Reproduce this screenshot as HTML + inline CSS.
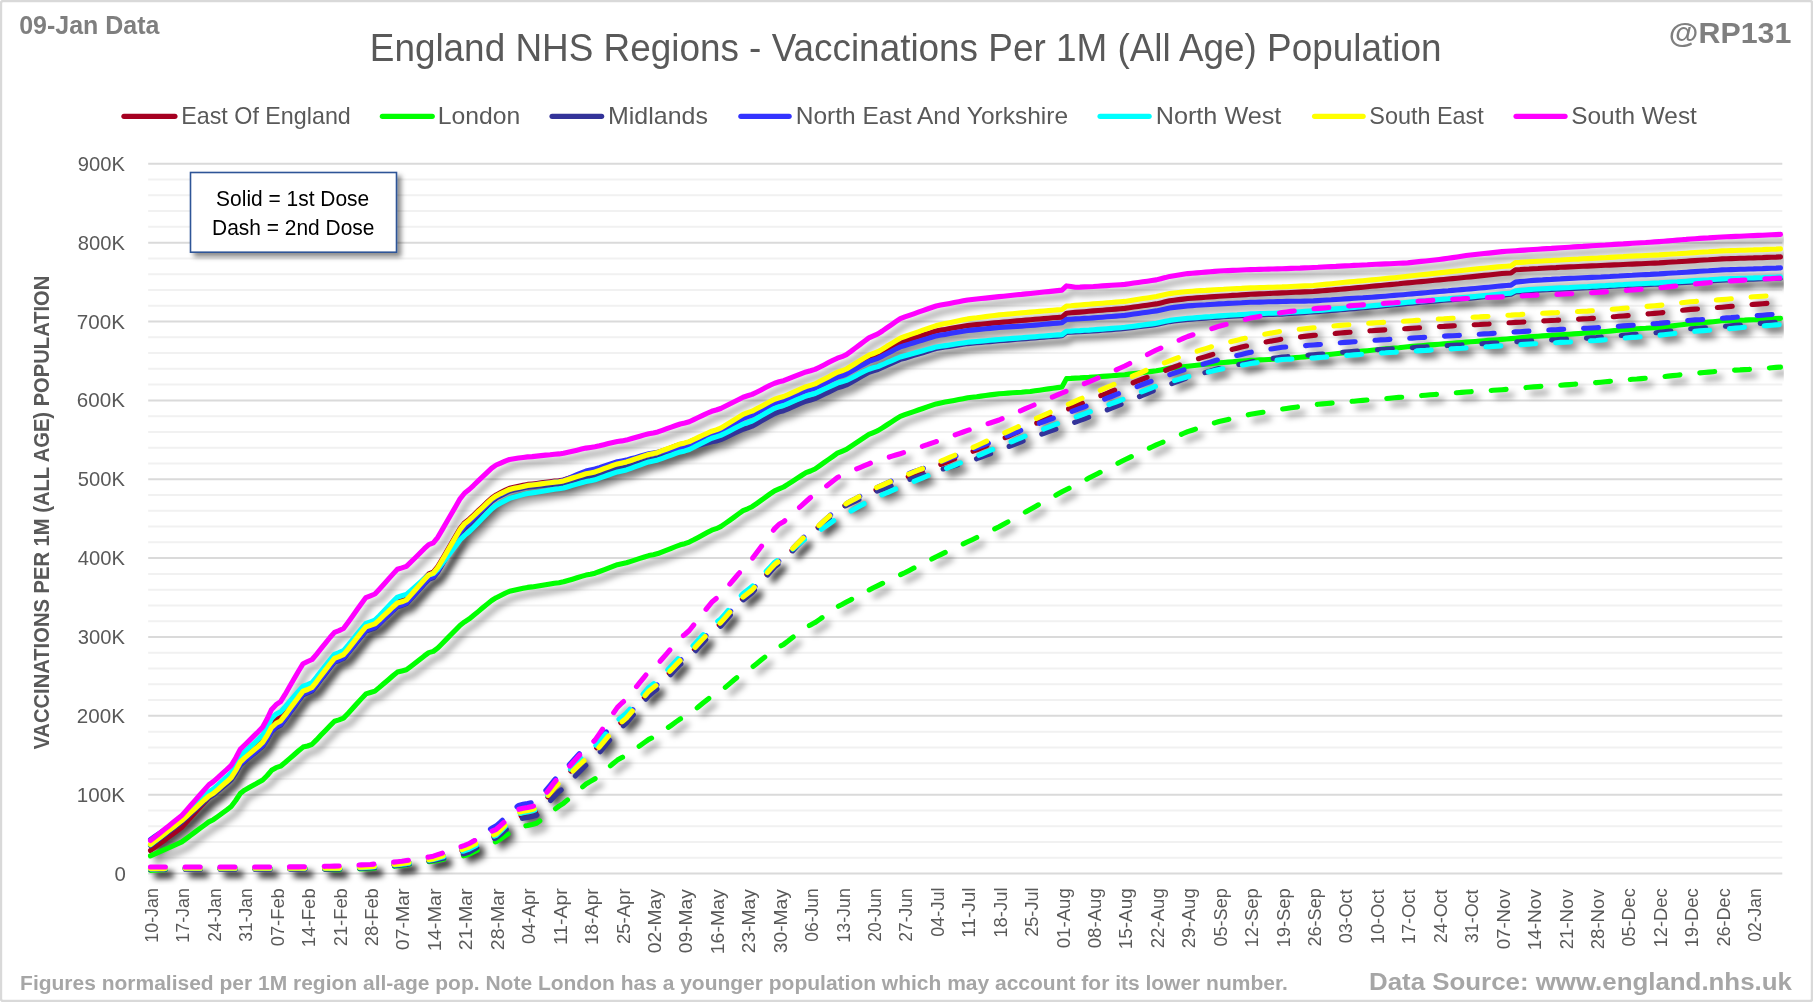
<!DOCTYPE html><html><head><meta charset="utf-8"><title>England NHS Regions - Vaccinations</title>
<style>html,body{margin:0;padding:0;background:#fff;}svg{display:block;font-family:'Liberation Sans', sans-serif;}</style></head><body>
<svg width="1813" height="1002" viewBox="0 0 1813 1002">
<defs>
<filter id="sh" x="0" y="0" width="1813" height="1002" filterUnits="userSpaceOnUse"><feGaussianBlur stdDeviation="3"/><feOffset dx="5.8" dy="5.8"/></filter>
<filter id="bsh" x="-10%" y="-10%" width="130%" height="140%"><feDropShadow dx="4" dy="4" stdDeviation="2.5" flood-color="#000" flood-opacity="0.45"/></filter>
<clipPath id="cp"><rect x="147.7" y="140" width="1636.1" height="745"/></clipPath>
</defs>
<rect x="0" y="0" width="1813" height="1002" fill="#fff"/>
<rect x="1" y="1" width="1811" height="1000" fill="none" stroke="#d9d9d9" stroke-width="2.4" rx="2"/>
<path d="M148.2 857.83H1782.3M148.2 842.05H1782.3M148.2 826.28H1782.3M148.2 810.50H1782.3M148.2 778.96H1782.3M148.2 763.18H1782.3M148.2 747.41H1782.3M148.2 731.63H1782.3M148.2 700.09H1782.3M148.2 684.31H1782.3M148.2 668.54H1782.3M148.2 652.76H1782.3M148.2 621.22H1782.3M148.2 605.44H1782.3M148.2 589.67H1782.3M148.2 573.89H1782.3M148.2 542.35H1782.3M148.2 526.57H1782.3M148.2 510.80H1782.3M148.2 495.02H1782.3M148.2 463.48H1782.3M148.2 447.70H1782.3M148.2 431.93H1782.3M148.2 416.15H1782.3M148.2 384.61H1782.3M148.2 368.83H1782.3M148.2 353.06H1782.3M148.2 337.28H1782.3M148.2 305.74H1782.3M148.2 289.96H1782.3M148.2 274.19H1782.3M148.2 258.41H1782.3M148.2 226.87H1782.3M148.2 211.09H1782.3M148.2 195.32H1782.3M148.2 179.54H1782.3" stroke="#f1f1f1" stroke-width="2" fill="none"/>
<path d="M148.2 873.60H1782.3M148.2 794.73H1782.3M148.2 715.86H1782.3M148.2 636.99H1782.3M148.2 558.12H1782.3M148.2 479.25H1782.3M148.2 400.38H1782.3M148.2 321.51H1782.3M148.2 242.64H1782.3M148.2 163.77H1782.3" stroke="#dadada" stroke-width="2" fill="none"/>
<g clip-path="url(#cp)" fill="none" stroke-linecap="round" stroke-linejoin="round" stroke-width="5.1">
<g filter="url(#sh)" stroke="#000" stroke-opacity="0.37">
<path id="s_red" d="M150.4,850.5 L154.9,847.2 L159.4,843.9 L163.9,840.6 L168.4,837.3 L172.9,834.0 L177.3,830.7 L181.8,827.3 L186.3,822.4 L190.8,817.4 L195.3,812.4 L199.8,807.4 L204.3,802.5 L208.8,797.6 L213.3,794.4 L217.8,790.2 L222.2,785.9 L226.7,781.6 L231.2,777.0 L235.7,769.1 L240.2,760.0 L244.7,755.3 L249.2,751.4 L253.7,747.5 L258.2,743.6 L262.7,739.4 L267.2,732.3 L271.6,724.0 L276.1,719.9 L280.6,717.6 L285.1,712.0 L289.6,706.1 L294.1,700.2 L298.6,694.2 L303.1,688.7 L307.6,687.0 L312.1,684.9 L316.5,679.5 L321.0,673.7 L325.5,667.9 L330.0,662.1 L334.5,656.6 L339.0,655.0 L343.5,653.0 L348.0,647.7 L352.5,642.1 L357.0,636.5 L361.5,630.9 L365.9,625.6 L370.4,624.0 L374.9,622.5 L379.4,618.5 L383.9,614.2 L388.4,610.0 L392.9,605.7 L397.4,601.7 L401.9,600.5 L406.4,598.7 L410.8,593.9 L415.3,588.8 L419.8,583.8 L424.3,578.7 L428.8,573.9 L433.3,572.1 L437.8,566.5 L442.3,559.0 L446.8,551.3 L451.3,543.5 L455.8,535.8 L460.2,528.3 L464.7,522.7 L469.2,519.2 L473.7,515.0 L478.2,510.7 L482.7,506.5 L487.2,502.2 L491.7,498.0 L496.2,494.9 L500.7,492.6 L505.1,490.4 L509.6,488.2 L514.1,487.2 L518.6,486.3 L523.1,485.3 L527.6,484.4 L532.1,484.0 L536.6,483.5 L541.1,482.9 L545.6,482.3 L550.1,481.7 L554.5,481.1 L559.0,480.8 L563.5,479.9 L568.0,478.5 L572.5,477.1 L577.0,475.7 L581.5,474.2 L586.0,472.9 L590.5,472.0 L595.0,471.0 L599.5,469.5 L603.9,468.0 L608.4,466.4 L612.9,464.9 L617.4,463.4 L621.9,462.5 L626.4,461.6 L630.9,460.2 L635.4,458.7 L639.9,457.2 L644.4,455.8 L648.8,454.4 L653.3,453.5 L657.8,452.5 L662.3,450.9 L666.8,449.3 L671.3,447.7 L675.8,446.0 L680.3,444.5 L684.8,443.5 L689.3,442.2 L693.8,440.2 L698.2,438.2 L702.7,436.2 L707.2,434.2 L711.7,432.2 L716.2,431.0 L720.7,429.3 L725.2,426.7 L729.7,424.0 L734.2,421.4 L738.7,418.7 L743.1,416.1 L747.6,414.5 L752.1,412.9 L756.6,410.6 L761.1,408.2 L765.6,405.7 L770.1,403.3 L774.6,401.0 L779.1,399.5 L783.6,398.2 L788.1,396.3 L792.5,394.3 L797.0,392.3 L801.5,390.3 L806.0,388.4 L810.5,387.2 L815.0,385.7 L819.5,383.5 L824.0,381.2 L828.5,378.9 L833.0,376.6 L837.4,374.4 L841.9,373.0 L846.4,371.3 L850.9,368.8 L855.4,366.2 L859.9,363.5 L864.4,360.9 L868.9,358.4 L873.4,356.8 L877.9,355.2 L882.4,352.7 L886.8,350.1 L891.3,347.5 L895.8,344.9 L900.3,342.4 L904.8,340.9 L909.3,339.5 L913.8,338.0 L918.3,336.6 L922.8,335.2 L927.3,333.8 L931.7,332.3 L936.2,331.0 L940.7,330.1 L945.2,329.4 L949.7,328.6 L954.2,327.8 L958.7,327.0 L963.2,326.3 L967.7,325.5 L972.2,325.1 L976.7,324.6 L981.1,324.2 L985.6,323.8 L990.1,323.4 L994.6,322.9 L999.1,322.5 L1003.6,322.1 L1008.1,321.7 L1012.6,321.3 L1017.1,320.9 L1021.6,320.5 L1026.0,320.1 L1030.5,319.7 L1035.0,319.3 L1039.5,319.0 L1044.0,318.6 L1048.5,318.2 L1053.0,317.8 L1057.5,317.5 L1062.0,317.1 L1066.5,313.2 L1071.0,312.8 L1075.4,312.4 L1079.9,312.1 L1084.4,311.7 L1088.9,311.3 L1093.4,310.9 L1097.9,310.5 L1102.4,310.2 L1106.9,309.8 L1111.4,309.5 L1115.9,309.1 L1120.3,308.8 L1124.8,308.4 L1129.3,307.8 L1133.8,307.1 L1138.3,306.5 L1142.8,305.8 L1147.3,305.2 L1151.8,304.5 L1156.3,303.9 L1160.8,302.9 L1165.3,301.8 L1169.7,300.8 L1174.2,300.2 L1178.7,299.6 L1183.2,299.1 L1187.7,298.5 L1192.2,298.2 L1196.7,297.9 L1201.2,297.6 L1205.7,297.2 L1210.2,296.9 L1214.6,296.6 L1219.1,296.3 L1223.6,296.0 L1228.1,295.7 L1232.6,295.4 L1237.1,295.2 L1241.6,294.9 L1246.1,294.6 L1250.6,294.3 L1255.1,294.1 L1259.6,293.9 L1264.0,293.7 L1268.5,293.5 L1273.0,293.3 L1277.5,293.1 L1282.0,292.9 L1286.5,292.7 L1291.0,292.5 L1295.5,292.3 L1300.0,292.1 L1304.5,291.9 L1308.9,291.7 L1313.4,291.5 L1317.9,291.1 L1322.4,290.8 L1326.9,290.4 L1331.4,290.0 L1335.9,289.6 L1340.4,289.3 L1344.9,288.9 L1349.4,288.5 L1353.9,288.0 L1358.3,287.6 L1362.8,287.2 L1367.3,286.8 L1371.8,286.3 L1376.3,285.9 L1380.8,285.5 L1385.3,285.0 L1389.8,284.6 L1394.3,284.2 L1398.8,283.8 L1403.2,283.3 L1407.7,282.9 L1412.2,282.5 L1416.7,282.0 L1421.2,281.6 L1425.7,281.2 L1430.2,280.8 L1434.7,280.3 L1439.2,279.9 L1443.7,279.5 L1448.2,279.0 L1452.6,278.6 L1457.1,278.2 L1461.6,277.8 L1466.1,277.3 L1470.6,276.9 L1475.1,276.4 L1479.6,275.9 L1484.1,275.4 L1488.6,275.0 L1493.1,274.5 L1497.6,274.0 L1502.0,273.5 L1506.5,273.2 L1511.0,273.0 L1515.5,269.7 L1520.0,269.5 L1524.5,269.2 L1529.0,269.0 L1533.5,268.7 L1538.0,268.5 L1542.5,268.2 L1546.9,268.0 L1551.4,267.8 L1555.9,267.6 L1560.4,267.3 L1564.9,267.1 L1569.4,266.9 L1573.9,266.7 L1578.4,266.5 L1582.9,266.3 L1587.4,266.1 L1591.9,265.9 L1596.3,265.7 L1600.8,265.5 L1605.3,265.3 L1609.8,265.1 L1614.3,264.9 L1618.8,264.7 L1623.3,264.5 L1627.8,264.3 L1632.3,264.1 L1636.8,263.9 L1641.2,263.7 L1645.7,263.5 L1650.2,263.3 L1654.7,263.1 L1659.2,262.9 L1663.7,262.6 L1668.2,262.3 L1672.7,262.0 L1677.2,261.8 L1681.7,261.5 L1686.2,261.2 L1690.6,260.9 L1695.1,260.6 L1699.6,260.3 L1704.1,260.0 L1708.6,259.8 L1713.1,259.5 L1717.6,259.2 L1722.1,258.9 L1726.6,258.8 L1731.1,258.6 L1735.5,258.5 L1740.0,258.3 L1744.5,258.2 L1749.0,258.0 L1753.5,257.9 L1758.0,257.7 L1762.5,257.6 L1767.0,257.4 L1771.5,257.2 L1776.0,257.1 L1780.5,256.9"/>
<path id="s_green" d="M150.4,855.9 L154.9,853.9 L159.4,851.9 L163.9,849.9 L168.4,848.0 L172.9,846.0 L177.3,844.0 L181.8,841.9 L186.3,838.6 L190.8,835.3 L195.3,831.9 L199.8,828.5 L204.3,825.2 L208.8,821.9 L213.3,819.7 L217.8,816.5 L222.2,813.3 L226.7,810.0 L231.2,806.5 L235.7,800.5 L240.2,793.6 L244.7,790.1 L249.2,787.5 L253.7,785.1 L258.2,782.6 L262.7,780.0 L267.2,775.5 L271.6,770.3 L276.1,767.7 L280.6,766.2 L285.1,762.5 L289.6,758.6 L294.1,754.7 L298.6,750.8 L303.1,747.1 L307.6,746.0 L312.1,744.3 L316.5,739.9 L321.0,735.1 L325.5,730.4 L330.0,725.7 L334.5,721.2 L339.0,719.9 L343.5,718.1 L348.0,713.5 L352.5,708.5 L357.0,703.5 L361.5,698.6 L365.9,693.9 L370.4,692.5 L374.9,691.1 L379.4,687.4 L383.9,683.5 L388.4,679.7 L392.9,675.8 L397.4,672.1 L401.9,671.0 L406.4,669.8 L410.8,666.4 L415.3,662.9 L419.8,659.4 L424.3,655.9 L428.8,652.6 L433.3,651.4 L437.8,648.0 L442.3,643.5 L446.8,638.9 L451.3,634.3 L455.8,629.7 L460.2,625.2 L464.7,621.8 L469.2,618.9 L473.7,615.3 L478.2,611.6 L482.7,607.8 L487.2,604.1 L491.7,600.5 L496.2,597.7 L500.7,595.5 L505.1,593.3 L509.6,591.2 L514.1,590.2 L518.6,589.2 L523.1,588.3 L527.6,587.4 L532.1,586.9 L536.6,586.2 L541.1,585.4 L545.6,584.7 L550.1,583.9 L554.5,583.2 L559.0,582.7 L563.5,581.8 L568.0,580.5 L572.5,579.2 L577.0,577.8 L581.5,576.4 L586.0,575.1 L590.5,574.3 L595.0,573.2 L599.5,571.5 L603.9,569.8 L608.4,568.1 L612.9,566.4 L617.4,564.7 L621.9,563.7 L626.4,562.8 L630.9,561.4 L635.4,559.9 L639.9,558.4 L644.4,557.0 L648.8,555.6 L653.3,554.7 L657.8,553.6 L662.3,551.8 L666.8,550.1 L671.3,548.3 L675.8,546.5 L680.3,544.8 L684.8,543.7 L689.3,542.1 L693.8,539.8 L698.2,537.4 L702.7,534.9 L707.2,532.5 L711.7,530.2 L716.2,528.7 L720.7,526.6 L725.2,523.5 L729.7,520.3 L734.2,517.1 L738.7,513.8 L743.1,510.7 L747.6,508.8 L752.1,506.7 L756.6,503.6 L761.1,500.4 L765.6,497.2 L770.1,493.9 L774.6,490.8 L779.1,488.9 L783.6,487.0 L788.1,484.2 L792.5,481.3 L797.0,478.4 L801.5,475.5 L806.0,472.7 L810.5,471.0 L815.0,469.0 L819.5,465.9 L824.0,462.7 L828.5,459.5 L833.0,456.3 L837.4,453.2 L841.9,451.3 L846.4,449.4 L850.9,446.4 L855.4,443.4 L859.9,440.4 L864.4,437.3 L868.9,434.4 L873.4,432.6 L877.9,430.7 L882.4,427.9 L886.8,425.0 L891.3,422.1 L895.8,419.2 L900.3,416.4 L904.8,414.7 L909.3,413.1 L913.8,411.6 L918.3,410.0 L922.8,408.5 L927.3,406.9 L931.7,405.4 L936.2,403.9 L940.7,402.9 L945.2,402.1 L949.7,401.2 L954.2,400.4 L958.7,399.5 L963.2,398.7 L967.7,397.8 L972.2,397.2 L976.7,396.7 L981.1,396.1 L985.6,395.5 L990.1,394.9 L994.6,394.4 L999.1,393.8 L1003.6,393.5 L1008.1,393.1 L1012.6,392.8 L1017.1,392.5 L1021.6,392.2 L1026.0,391.8 L1030.5,391.5 L1035.0,390.8 L1039.5,390.2 L1044.0,389.5 L1048.5,388.9 L1053.0,388.2 L1057.5,387.6 L1062.0,386.9 L1066.5,378.6 L1071.0,378.4 L1075.4,378.1 L1079.9,377.9 L1084.4,377.6 L1088.9,377.4 L1093.4,377.1 L1097.9,376.8 L1102.4,376.4 L1106.9,376.1 L1111.4,375.7 L1115.9,375.4 L1120.3,375.0 L1124.8,374.7 L1129.3,374.1 L1133.8,373.6 L1138.3,373.0 L1142.8,372.5 L1147.3,371.9 L1151.8,371.4 L1156.3,370.8 L1160.8,369.9 L1165.3,369.0 L1169.7,368.1 L1174.2,367.6 L1178.7,367.1 L1183.2,366.7 L1187.7,366.2 L1192.2,365.7 L1196.7,365.2 L1201.2,364.7 L1205.7,364.3 L1210.2,363.8 L1214.6,363.3 L1219.1,362.8 L1223.6,362.5 L1228.1,362.1 L1232.6,361.8 L1237.1,361.4 L1241.6,361.1 L1246.1,360.7 L1250.6,360.4 L1255.1,360.2 L1259.6,359.9 L1264.0,359.7 L1268.5,359.5 L1273.0,359.3 L1277.5,359.0 L1282.0,358.8 L1286.5,358.4 L1291.0,358.0 L1295.5,357.6 L1300.0,357.3 L1304.5,356.9 L1308.9,356.5 L1313.4,356.1 L1317.9,355.6 L1322.4,355.2 L1326.9,354.7 L1331.4,354.2 L1335.9,353.7 L1340.4,353.3 L1344.9,352.8 L1349.4,352.4 L1353.9,351.9 L1358.3,351.5 L1362.8,351.1 L1367.3,350.7 L1371.8,350.2 L1376.3,349.8 L1380.8,349.4 L1385.3,348.9 L1389.8,348.5 L1394.3,348.1 L1398.8,347.7 L1403.2,347.2 L1407.7,346.8 L1412.2,346.4 L1416.7,346.1 L1421.2,345.7 L1425.7,345.3 L1430.2,344.9 L1434.7,344.6 L1439.2,344.2 L1443.7,343.9 L1448.2,343.5 L1452.6,343.2 L1457.1,342.8 L1461.6,342.5 L1466.1,342.1 L1470.6,341.8 L1475.1,341.5 L1479.6,341.1 L1484.1,340.8 L1488.6,340.4 L1493.1,340.1 L1497.6,339.7 L1502.0,339.4 L1506.5,339.0 L1511.0,338.6 L1515.5,338.2 L1520.0,337.7 L1524.5,337.3 L1529.0,336.9 L1533.5,336.5 L1538.0,336.2 L1542.5,335.9 L1546.9,335.6 L1551.4,335.4 L1555.9,335.1 L1560.4,334.8 L1564.9,334.5 L1569.4,334.2 L1573.9,333.9 L1578.4,333.6 L1582.9,333.2 L1587.4,332.9 L1591.9,332.6 L1596.3,332.3 L1600.8,331.9 L1605.3,331.5 L1609.8,331.1 L1614.3,330.6 L1618.8,330.2 L1623.3,329.8 L1627.8,329.4 L1632.3,329.1 L1636.8,328.8 L1641.2,328.5 L1645.7,328.3 L1650.2,328.0 L1654.7,327.7 L1659.2,327.4 L1663.7,326.9 L1668.2,326.4 L1672.7,325.9 L1677.2,325.3 L1681.7,324.8 L1686.2,324.3 L1690.6,323.8 L1695.1,323.4 L1699.6,322.9 L1704.1,322.5 L1708.6,322.1 L1713.1,321.7 L1717.6,321.2 L1722.1,320.8 L1726.6,320.7 L1731.1,320.5 L1735.5,320.4 L1740.0,320.2 L1744.5,320.1 L1749.0,319.9 L1753.5,319.8 L1758.0,319.6 L1762.5,319.3 L1767.0,319.1 L1771.5,318.9 L1776.0,318.6 L1780.5,318.4"/>
<path id="s_navy" d="M150.4,845.5 L154.9,842.1 L159.4,838.8 L163.9,835.4 L168.4,832.1 L172.9,828.7 L177.3,825.4 L181.8,821.9 L186.3,817.9 L190.8,813.8 L195.3,809.7 L199.8,805.6 L204.3,801.5 L208.8,797.6 L213.3,794.9 L217.8,791.3 L222.2,787.6 L226.7,783.8 L231.2,779.9 L235.7,773.0 L240.2,765.1 L244.7,761.0 L249.2,757.3 L253.7,753.7 L258.2,750.0 L262.7,746.1 L267.2,739.3 L271.6,731.5 L276.1,727.6 L280.6,725.3 L285.1,719.4 L289.6,713.1 L294.1,706.9 L298.6,700.6 L303.1,694.8 L307.6,693.0 L312.1,690.9 L316.5,685.4 L321.0,679.5 L325.5,673.6 L330.0,667.7 L334.5,662.2 L339.0,660.5 L343.5,658.5 L348.0,653.2 L352.5,647.6 L357.0,642.0 L361.5,636.4 L365.9,631.1 L370.4,629.5 L374.9,628.0 L379.4,623.9 L383.9,619.5 L388.4,615.2 L392.9,610.8 L397.4,606.7 L401.9,605.5 L406.4,603.7 L410.8,599.0 L415.3,594.0 L419.8,589.1 L424.3,584.1 L428.8,579.4 L433.3,577.6 L437.8,572.0 L442.3,564.5 L446.8,556.8 L451.3,549.0 L455.8,541.3 L460.2,533.8 L464.7,528.2 L469.2,524.4 L473.7,519.9 L478.2,515.3 L482.7,510.6 L487.2,506.0 L491.7,501.5 L496.2,498.1 L500.7,495.7 L505.1,493.4 L509.6,491.2 L514.1,490.1 L518.6,489.0 L523.1,488.0 L527.6,487.1 L532.1,486.7 L536.6,486.2 L541.1,485.7 L545.6,485.2 L550.1,484.8 L554.5,484.3 L559.0,484.0 L563.5,483.2 L568.0,481.9 L572.5,480.6 L577.0,479.3 L581.5,478.0 L586.0,476.8 L590.5,476.0 L595.0,475.2 L599.5,473.9 L603.9,472.6 L608.4,471.3 L612.9,470.0 L617.4,468.7 L621.9,467.9 L626.4,467.0 L630.9,465.6 L635.4,464.1 L639.9,462.7 L644.4,461.3 L648.8,459.9 L653.3,459.0 L657.8,458.0 L662.3,456.4 L666.8,454.8 L671.3,453.2 L675.8,451.5 L680.3,450.0 L684.8,449.0 L689.3,448.2 L693.8,446.9 L698.2,445.6 L702.7,444.3 L707.2,443.0 L711.7,441.8 L716.2,441.0 L720.7,439.6 L725.2,437.6 L729.7,435.5 L734.2,433.3 L738.7,431.2 L743.1,429.2 L747.6,427.9 L752.1,426.2 L756.6,423.7 L761.1,421.1 L765.6,418.5 L770.1,416.0 L774.6,413.5 L779.1,411.9 L783.6,410.7 L788.1,408.8 L792.5,406.9 L797.0,404.9 L801.5,403.0 L806.0,401.2 L810.5,400.0 L815.0,398.6 L819.5,396.5 L824.0,394.3 L828.5,392.1 L833.0,389.9 L837.4,387.8 L841.9,386.5 L846.4,384.9 L850.9,382.4 L855.4,379.9 L859.9,377.3 L864.4,374.8 L868.9,372.3 L873.4,370.8 L877.9,369.5 L882.4,367.5 L886.8,365.5 L891.3,363.4 L895.8,361.4 L900.3,359.4 L904.8,358.2 L909.3,356.8 L913.8,355.4 L918.3,354.0 L922.8,352.7 L927.3,351.3 L931.7,349.9 L936.2,348.6 L940.7,347.8 L945.2,347.1 L949.7,346.4 L954.2,345.7 L958.7,345.0 L963.2,344.3 L967.7,343.6 L972.2,343.2 L976.7,342.8 L981.1,342.4 L985.6,342.0 L990.1,341.6 L994.6,341.2 L999.1,340.8 L1003.6,340.4 L1008.1,340.1 L1012.6,339.7 L1017.1,339.3 L1021.6,338.9 L1026.0,338.6 L1030.5,338.2 L1035.0,337.9 L1039.5,337.5 L1044.0,337.2 L1048.5,336.8 L1053.0,336.5 L1057.5,336.1 L1062.0,335.8 L1066.5,332.5 L1071.0,332.3 L1075.4,332.0 L1079.9,331.8 L1084.4,331.5 L1088.9,331.3 L1093.4,331.0 L1097.9,330.6 L1102.4,330.3 L1106.9,329.9 L1111.4,329.6 L1115.9,329.2 L1120.3,328.9 L1124.8,328.5 L1129.3,327.9 L1133.8,327.4 L1138.3,326.8 L1142.8,326.2 L1147.3,325.6 L1151.8,325.1 L1156.3,324.5 L1160.8,323.5 L1165.3,322.5 L1169.7,321.6 L1174.2,321.0 L1178.7,320.5 L1183.2,320.0 L1187.7,319.5 L1192.2,319.2 L1196.7,318.8 L1201.2,318.5 L1205.7,318.1 L1210.2,317.8 L1214.6,317.4 L1219.1,317.1 L1223.6,316.8 L1228.1,316.5 L1232.6,316.2 L1237.1,316.0 L1241.6,315.7 L1246.1,315.4 L1250.6,315.1 L1255.1,315.0 L1259.6,314.8 L1264.0,314.7 L1268.5,314.5 L1273.0,314.4 L1277.5,314.2 L1282.0,314.1 L1286.5,313.8 L1291.0,313.5 L1295.5,313.2 L1300.0,312.9 L1304.5,312.6 L1308.9,312.3 L1313.4,312.0 L1317.9,311.6 L1322.4,311.3 L1326.9,310.9 L1331.4,310.5 L1335.9,310.1 L1340.4,309.8 L1344.9,309.4 L1349.4,309.0 L1353.9,308.6 L1358.3,308.2 L1362.8,307.8 L1367.3,307.4 L1371.8,307.0 L1376.3,306.6 L1380.8,306.2 L1385.3,305.7 L1389.8,305.3 L1394.3,304.8 L1398.8,304.4 L1403.2,303.9 L1407.7,303.5 L1412.2,303.1 L1416.7,302.7 L1421.2,302.3 L1425.7,301.9 L1430.2,301.5 L1434.7,301.1 L1439.2,300.7 L1443.7,300.3 L1448.2,300.0 L1452.6,299.6 L1457.1,299.2 L1461.6,298.8 L1466.1,298.5 L1470.6,298.1 L1475.1,297.7 L1479.6,297.2 L1484.1,296.8 L1488.6,296.4 L1493.1,296.0 L1497.6,295.5 L1502.0,295.1 L1506.5,294.7 L1511.0,294.3 L1515.5,291.9 L1520.0,291.6 L1524.5,291.2 L1529.0,290.8 L1533.5,290.4 L1538.0,290.2 L1542.5,290.0 L1546.9,289.8 L1551.4,289.5 L1555.9,289.3 L1560.4,289.1 L1564.9,288.9 L1569.4,288.7 L1573.9,288.4 L1578.4,288.2 L1582.9,288.0 L1587.4,287.8 L1591.9,287.5 L1596.3,287.3 L1600.8,287.0 L1605.3,286.8 L1609.8,286.5 L1614.3,286.3 L1618.8,286.0 L1623.3,285.8 L1627.8,285.5 L1632.3,285.3 L1636.8,285.1 L1641.2,284.9 L1645.7,284.7 L1650.2,284.5 L1654.7,284.3 L1659.2,284.1 L1663.7,283.8 L1668.2,283.5 L1672.7,283.2 L1677.2,283.0 L1681.7,282.7 L1686.2,282.4 L1690.6,282.1 L1695.1,281.8 L1699.6,281.5 L1704.1,281.2 L1708.6,281.0 L1713.1,280.7 L1717.6,280.4 L1722.1,280.1 L1726.6,280.0 L1731.1,279.8 L1735.5,279.7 L1740.0,279.5 L1744.5,279.4 L1749.0,279.2 L1753.5,279.1 L1758.0,278.9 L1762.5,278.8 L1767.0,278.6 L1771.5,278.4 L1776.0,278.3 L1780.5,278.1"/>
<path id="s_blue" d="M150.4,839.5 L154.9,836.4 L159.4,833.4 L163.9,830.3 L168.4,827.2 L172.9,824.1 L177.3,821.1 L181.8,817.9 L186.3,814.0 L190.8,810.0 L195.3,805.9 L199.8,801.9 L204.3,797.9 L208.8,794.0 L213.3,791.4 L217.8,788.1 L222.2,784.7 L226.7,781.3 L231.2,777.6 L235.7,771.4 L240.2,764.1 L244.7,760.4 L249.2,756.7 L253.7,753.0 L258.2,749.3 L262.7,745.3 L267.2,738.5 L271.6,730.6 L276.1,726.6 L280.6,724.3 L285.1,718.4 L289.6,712.1 L294.1,705.9 L298.6,699.6 L303.1,693.8 L307.6,692.0 L312.1,689.9 L316.5,684.4 L321.0,678.5 L325.5,672.7 L330.0,666.8 L334.5,661.4 L339.0,659.7 L343.5,657.7 L348.0,652.4 L352.5,646.8 L357.0,641.2 L361.5,635.6 L365.9,630.3 L370.4,628.7 L374.9,627.2 L379.4,623.1 L383.9,618.7 L388.4,614.4 L392.9,610.1 L397.4,606.0 L401.9,604.8 L406.4,603.0 L410.8,598.3 L415.3,593.2 L419.8,588.2 L424.3,583.1 L428.8,578.4 L433.3,576.6 L437.8,570.9 L442.3,563.2 L446.8,555.3 L451.3,547.5 L455.8,539.6 L460.2,531.9 L464.7,526.2 L469.2,522.5 L473.7,518.0 L478.2,513.5 L482.7,508.9 L487.2,504.4 L491.7,499.9 L496.2,496.6 L500.7,494.2 L505.1,491.9 L509.6,489.6 L514.1,488.5 L518.6,487.5 L523.1,486.4 L527.6,485.5 L532.1,485.0 L536.6,484.4 L541.1,483.8 L545.6,483.1 L550.1,482.5 L554.5,481.9 L559.0,481.4 L563.5,480.3 L568.0,478.5 L572.5,476.6 L577.0,474.7 L581.5,472.8 L586.0,471.0 L590.5,469.9 L595.0,469.0 L599.5,467.6 L603.9,466.1 L608.4,464.6 L612.9,463.2 L617.4,461.8 L621.9,460.9 L626.4,460.1 L630.9,458.8 L635.4,457.6 L639.9,456.3 L644.4,455.0 L648.8,453.8 L653.3,453.0 L657.8,452.4 L662.3,451.4 L666.8,450.4 L671.3,449.4 L675.8,448.4 L680.3,447.5 L684.8,446.8 L689.3,445.6 L693.8,443.5 L698.2,441.4 L702.7,439.3 L707.2,437.2 L711.7,435.2 L716.2,433.9 L720.7,432.1 L725.2,429.4 L729.7,426.6 L734.2,423.8 L738.7,421.1 L743.1,418.4 L747.6,416.7 L752.1,415.2 L756.6,412.8 L761.1,410.4 L765.6,408.0 L770.1,405.6 L774.6,403.2 L779.1,401.8 L783.6,400.5 L788.1,398.6 L792.5,396.6 L797.0,394.6 L801.5,392.5 L806.0,390.6 L810.5,389.4 L815.0,388.0 L819.5,385.9 L824.0,383.7 L828.5,381.5 L833.0,379.2 L837.4,377.1 L841.9,375.8 L846.4,374.1 L850.9,371.6 L855.4,369.0 L859.9,366.4 L864.4,363.9 L868.9,361.4 L873.4,359.8 L877.9,358.3 L882.4,356.1 L886.8,353.8 L891.3,351.4 L895.8,349.1 L900.3,346.9 L904.8,345.5 L909.3,344.1 L913.8,342.8 L918.3,341.4 L922.8,340.0 L927.3,338.6 L931.7,337.3 L936.2,335.9 L940.7,335.1 L945.2,334.4 L949.7,333.6 L954.2,332.8 L958.7,332.0 L963.2,331.3 L967.7,330.5 L972.2,330.1 L976.7,329.6 L981.1,329.2 L985.6,328.8 L990.1,328.4 L994.6,327.9 L999.1,327.5 L1003.6,327.2 L1008.1,326.9 L1012.6,326.6 L1017.1,326.4 L1021.6,326.1 L1026.0,325.8 L1030.5,325.5 L1035.0,325.1 L1039.5,324.7 L1044.0,324.3 L1048.5,323.9 L1053.0,323.5 L1057.5,323.1 L1062.0,322.7 L1066.5,319.4 L1071.0,319.2 L1075.4,318.9 L1079.9,318.7 L1084.4,318.4 L1088.9,318.2 L1093.4,317.9 L1097.9,317.5 L1102.4,317.2 L1106.9,316.8 L1111.4,316.5 L1115.9,316.1 L1120.3,315.8 L1124.8,315.4 L1129.3,314.8 L1133.8,314.1 L1138.3,313.5 L1142.8,312.8 L1147.3,312.2 L1151.8,311.5 L1156.3,310.9 L1160.8,309.9 L1165.3,308.9 L1169.7,308.0 L1174.2,307.4 L1178.7,306.9 L1183.2,306.4 L1187.7,305.9 L1192.2,305.6 L1196.7,305.3 L1201.2,305.0 L1205.7,304.8 L1210.2,304.5 L1214.6,304.2 L1219.1,303.9 L1223.6,303.7 L1228.1,303.4 L1232.6,303.2 L1237.1,303.0 L1241.6,302.8 L1246.1,302.5 L1250.6,302.3 L1255.1,302.2 L1259.6,302.1 L1264.0,302.0 L1268.5,301.8 L1273.0,301.7 L1277.5,301.6 L1282.0,301.5 L1286.5,301.4 L1291.0,301.3 L1295.5,301.2 L1300.0,301.2 L1304.5,301.1 L1308.9,301.0 L1313.4,300.9 L1317.9,300.6 L1322.4,300.3 L1326.9,300.0 L1331.4,299.8 L1335.9,299.5 L1340.4,299.2 L1344.9,298.9 L1349.4,298.6 L1353.9,298.3 L1358.3,298.0 L1362.8,297.8 L1367.3,297.5 L1371.8,297.2 L1376.3,296.9 L1380.8,296.5 L1385.3,296.2 L1389.8,295.8 L1394.3,295.4 L1398.8,295.0 L1403.2,294.7 L1407.7,294.3 L1412.2,293.9 L1416.7,293.5 L1421.2,293.1 L1425.7,292.7 L1430.2,292.3 L1434.7,291.9 L1439.2,291.5 L1443.7,291.1 L1448.2,290.8 L1452.6,290.4 L1457.1,290.0 L1461.6,289.6 L1466.1,289.3 L1470.6,288.9 L1475.1,288.5 L1479.6,288.0 L1484.1,287.6 L1488.6,287.2 L1493.1,286.8 L1497.6,286.3 L1502.0,285.9 L1506.5,285.5 L1511.0,285.1 L1515.5,282.1 L1520.0,281.6 L1524.5,281.2 L1529.0,280.8 L1533.5,280.4 L1538.0,280.1 L1542.5,279.9 L1546.9,279.6 L1551.4,279.4 L1555.9,279.1 L1560.4,278.9 L1564.9,278.6 L1569.4,278.4 L1573.9,278.2 L1578.4,278.0 L1582.9,277.8 L1587.4,277.6 L1591.9,277.4 L1596.3,277.2 L1600.8,277.0 L1605.3,276.7 L1609.8,276.5 L1614.3,276.2 L1618.8,276.0 L1623.3,275.7 L1627.8,275.5 L1632.3,275.3 L1636.8,275.0 L1641.2,274.8 L1645.7,274.6 L1650.2,274.4 L1654.7,274.1 L1659.2,273.9 L1663.7,273.6 L1668.2,273.3 L1672.7,273.0 L1677.2,272.8 L1681.7,272.5 L1686.2,272.2 L1690.6,271.9 L1695.1,271.6 L1699.6,271.3 L1704.1,271.0 L1708.6,270.8 L1713.1,270.5 L1717.6,270.2 L1722.1,269.9 L1726.6,269.8 L1731.1,269.6 L1735.5,269.5 L1740.0,269.3 L1744.5,269.2 L1749.0,269.0 L1753.5,268.9 L1758.0,268.7 L1762.5,268.6 L1767.0,268.4 L1771.5,268.2 L1776.0,268.1 L1780.5,267.9"/>
<path id="s_cyan" d="M150.4,844.8 L154.9,841.3 L159.4,837.7 L163.9,834.2 L168.4,830.6 L172.9,827.1 L177.3,823.5 L181.8,819.9 L186.3,815.3 L190.8,810.7 L195.3,806.0 L199.8,801.4 L204.3,796.7 L208.8,792.2 L213.3,789.2 L217.8,785.2 L222.2,781.1 L226.7,777.0 L231.2,772.6 L235.7,765.1 L240.2,756.4 L244.7,751.9 L249.2,747.7 L253.7,743.6 L258.2,739.4 L262.7,734.9 L267.2,727.3 L271.6,718.4 L276.1,714.0 L280.6,711.9 L285.1,706.9 L289.6,701.6 L294.1,696.3 L298.6,691.1 L303.1,686.1 L307.6,684.6 L312.1,682.5 L316.5,677.1 L321.0,671.3 L325.5,665.5 L330.0,659.8 L334.5,654.3 L339.0,652.7 L343.5,650.7 L348.0,645.4 L352.5,639.8 L357.0,634.2 L361.5,628.6 L365.9,623.4 L370.4,621.8 L374.9,620.1 L379.4,615.7 L383.9,611.0 L388.4,606.3 L392.9,601.6 L397.4,597.1 L401.9,595.8 L406.4,594.4 L410.8,590.6 L415.3,586.7 L419.8,582.7 L424.3,578.7 L428.8,575.0 L433.3,573.6 L437.8,569.3 L442.3,563.5 L446.8,557.5 L451.3,551.5 L455.8,545.6 L460.2,539.8 L464.7,535.4 L469.2,531.7 L473.7,527.2 L478.2,522.6 L482.7,518.0 L487.2,513.4 L491.7,508.9 L496.2,505.5 L500.7,503.0 L505.1,500.7 L509.6,498.4 L514.1,497.1 L518.6,495.9 L523.1,494.6 L527.6,493.5 L532.1,492.9 L536.6,492.2 L541.1,491.5 L545.6,490.7 L550.1,490.0 L554.5,489.2 L559.0,488.8 L563.5,488.0 L568.0,486.7 L572.5,485.4 L577.0,484.1 L581.5,482.8 L586.0,481.6 L590.5,480.8 L595.0,479.8 L599.5,478.2 L603.9,476.6 L608.4,475.0 L612.9,473.4 L617.4,471.9 L621.9,470.9 L626.4,469.9 L630.9,468.3 L635.4,466.7 L639.9,465.1 L644.4,463.4 L648.8,461.9 L653.3,460.9 L657.8,459.9 L662.3,458.3 L666.8,456.7 L671.3,455.1 L675.8,453.4 L680.3,451.9 L684.8,450.9 L689.3,449.5 L693.8,447.3 L698.2,445.0 L702.7,442.7 L707.2,440.4 L711.7,438.3 L716.2,436.9 L720.7,435.4 L725.2,433.2 L729.7,430.9 L734.2,428.6 L738.7,426.3 L743.1,424.1 L747.6,422.7 L752.1,421.0 L756.6,418.5 L761.1,415.9 L765.6,413.3 L770.1,410.8 L774.6,408.3 L779.1,406.7 L783.6,405.5 L788.1,403.6 L792.5,401.7 L797.0,399.7 L801.5,397.8 L806.0,396.0 L810.5,394.8 L815.0,393.5 L819.5,391.4 L824.0,389.3 L828.5,387.2 L833.0,385.1 L837.4,383.1 L841.9,381.8 L846.4,380.4 L850.9,378.2 L855.4,375.9 L859.9,373.6 L864.4,371.3 L868.9,369.2 L873.4,367.8 L877.9,366.6 L882.4,364.7 L886.8,362.7 L891.3,360.8 L895.8,358.8 L900.3,357.0 L904.8,355.8 L909.3,354.5 L913.8,353.3 L918.3,352.0 L922.8,350.7 L927.3,349.4 L931.7,348.2 L936.2,346.9 L940.7,346.2 L945.2,345.6 L949.7,344.9 L954.2,344.3 L958.7,343.6 L963.2,343.0 L967.7,342.3 L972.2,341.9 L976.7,341.5 L981.1,341.1 L985.6,340.7 L990.1,340.3 L994.6,339.9 L999.1,339.5 L1003.6,339.1 L1008.1,338.8 L1012.6,338.4 L1017.1,338.1 L1021.6,337.7 L1026.0,337.4 L1030.5,337.0 L1035.0,336.7 L1039.5,336.3 L1044.0,336.0 L1048.5,335.6 L1053.0,335.3 L1057.5,334.9 L1062.0,334.6 L1066.5,331.3 L1071.0,331.1 L1075.4,330.8 L1079.9,330.6 L1084.4,330.3 L1088.9,330.1 L1093.4,329.8 L1097.9,329.4 L1102.4,329.1 L1106.9,328.7 L1111.4,328.4 L1115.9,328.0 L1120.3,327.7 L1124.8,327.3 L1129.3,326.7 L1133.8,326.2 L1138.3,325.6 L1142.8,325.0 L1147.3,324.4 L1151.8,323.9 L1156.3,323.3 L1160.8,322.3 L1165.3,321.3 L1169.7,320.4 L1174.2,319.8 L1178.7,319.3 L1183.2,318.8 L1187.7,318.3 L1192.2,318.0 L1196.7,317.6 L1201.2,317.3 L1205.7,316.9 L1210.2,316.6 L1214.6,316.2 L1219.1,315.9 L1223.6,315.6 L1228.1,315.3 L1232.6,315.0 L1237.1,314.8 L1241.6,314.5 L1246.1,314.2 L1250.6,313.9 L1255.1,313.8 L1259.6,313.6 L1264.0,313.5 L1268.5,313.3 L1273.0,313.2 L1277.5,313.0 L1282.0,312.9 L1286.5,312.6 L1291.0,312.3 L1295.5,312.0 L1300.0,311.7 L1304.5,311.4 L1308.9,311.1 L1313.4,310.8 L1317.9,310.4 L1322.4,310.1 L1326.9,309.7 L1331.4,309.3 L1335.9,308.9 L1340.4,308.6 L1344.9,308.2 L1349.4,307.8 L1353.9,307.4 L1358.3,307.0 L1362.8,306.6 L1367.3,306.2 L1371.8,305.8 L1376.3,305.4 L1380.8,305.0 L1385.3,304.5 L1389.8,304.1 L1394.3,303.6 L1398.8,303.2 L1403.2,302.7 L1407.7,302.3 L1412.2,301.9 L1416.7,301.5 L1421.2,301.1 L1425.7,300.7 L1430.2,300.3 L1434.7,299.9 L1439.2,299.5 L1443.7,299.1 L1448.2,298.8 L1452.6,298.4 L1457.1,298.0 L1461.6,297.6 L1466.1,297.3 L1470.6,296.9 L1475.1,296.5 L1479.6,296.0 L1484.1,295.6 L1488.6,295.2 L1493.1,294.8 L1497.6,294.3 L1502.0,293.9 L1506.5,293.5 L1511.0,293.1 L1515.5,290.7 L1520.0,290.4 L1524.5,290.0 L1529.0,289.6 L1533.5,289.2 L1538.0,289.0 L1542.5,288.8 L1546.9,288.6 L1551.4,288.3 L1555.9,288.1 L1560.4,287.9 L1564.9,287.7 L1569.4,287.5 L1573.9,287.2 L1578.4,287.0 L1582.9,286.8 L1587.4,286.6 L1591.9,286.3 L1596.3,286.1 L1600.8,285.8 L1605.3,285.6 L1609.8,285.3 L1614.3,285.1 L1618.8,284.8 L1623.3,284.6 L1627.8,284.3 L1632.3,284.1 L1636.8,283.9 L1641.2,283.7 L1645.7,283.5 L1650.2,283.3 L1654.7,283.1 L1659.2,282.9 L1663.7,282.6 L1668.2,282.3 L1672.7,282.0 L1677.2,281.8 L1681.7,281.5 L1686.2,281.2 L1690.6,280.9 L1695.1,280.6 L1699.6,280.3 L1704.1,280.0 L1708.6,279.8 L1713.1,279.5 L1717.6,279.2 L1722.1,278.9 L1726.6,278.8 L1731.1,278.6 L1735.5,278.5 L1740.0,278.3 L1744.5,278.2 L1749.0,278.0 L1753.5,277.9 L1758.0,277.7 L1762.5,277.6 L1767.0,277.4 L1771.5,277.2 L1776.0,277.1 L1780.5,276.9"/>
<path id="s_yellow" d="M150.4,844.4 L154.9,841.0 L159.4,837.6 L163.9,834.2 L168.4,830.8 L172.9,827.4 L177.3,824.0 L181.8,820.5 L186.3,816.5 L190.8,812.4 L195.3,808.3 L199.8,804.2 L204.3,800.0 L208.8,796.1 L213.3,793.4 L217.8,789.6 L222.2,785.7 L226.7,781.8 L231.2,777.6 L235.7,770.5 L240.2,762.2 L244.7,757.9 L249.2,754.1 L253.7,750.3 L258.2,746.5 L262.7,742.4 L267.2,735.4 L271.6,727.3 L276.1,723.3 L280.6,720.9 L285.1,715.2 L289.6,709.1 L294.1,703.0 L298.6,696.9 L303.1,691.2 L307.6,689.5 L312.1,687.4 L316.5,681.8 L321.0,675.8 L325.5,669.9 L330.0,664.0 L334.5,658.4 L339.0,656.7 L343.5,654.7 L348.0,649.3 L352.5,643.6 L357.0,637.9 L361.5,632.2 L365.9,626.9 L370.4,625.3 L374.9,623.8 L379.4,619.8 L383.9,615.5 L388.4,611.3 L392.9,607.0 L397.4,603.0 L401.9,601.8 L406.4,600.0 L410.8,595.1 L415.3,590.0 L419.8,584.9 L424.3,579.8 L428.8,575.0 L433.3,573.1 L437.8,567.5 L442.3,560.0 L446.8,552.3 L451.3,544.5 L455.8,536.8 L460.2,529.3 L464.7,523.7 L469.2,520.2 L473.7,516.0 L478.2,511.7 L482.7,507.5 L487.2,503.2 L491.7,499.0 L496.2,495.9 L500.7,493.6 L505.1,491.5 L509.6,489.4 L514.1,488.3 L518.6,487.4 L523.1,486.4 L527.6,485.4 L532.1,485.0 L536.6,484.5 L541.1,483.9 L545.6,483.3 L550.1,482.7 L554.5,482.1 L559.0,481.8 L563.5,480.9 L568.0,479.5 L572.5,478.0 L577.0,476.6 L581.5,475.2 L586.0,473.8 L590.5,472.9 L595.0,471.9 L599.5,470.3 L603.9,468.7 L608.4,467.1 L612.9,465.4 L617.4,463.9 L621.9,462.9 L626.4,461.9 L630.9,460.5 L635.4,458.9 L639.9,457.4 L644.4,455.9 L648.8,454.4 L653.3,453.5 L657.8,452.4 L662.3,450.7 L666.8,449.0 L671.3,447.3 L675.8,445.6 L680.3,443.9 L684.8,442.9 L689.3,441.6 L693.8,439.5 L698.2,437.4 L702.7,435.3 L707.2,433.2 L711.7,431.2 L716.2,429.9 L720.7,428.1 L725.2,425.4 L729.7,422.6 L734.2,419.8 L738.7,417.1 L743.1,414.4 L747.6,412.7 L752.1,411.2 L756.6,408.8 L761.1,406.4 L765.6,404.0 L770.1,401.6 L774.6,399.2 L779.1,397.8 L783.6,396.5 L788.1,394.6 L792.5,392.6 L797.0,390.6 L801.5,388.5 L806.0,386.6 L810.5,385.4 L815.0,383.9 L819.5,381.6 L824.0,379.2 L828.5,376.9 L833.0,374.5 L837.4,372.2 L841.9,370.8 L846.4,369.0 L850.9,366.3 L855.4,363.5 L859.9,360.7 L864.4,357.9 L868.9,355.2 L873.4,353.5 L877.9,351.7 L882.4,349.1 L886.8,346.3 L891.3,343.6 L895.8,340.8 L900.3,338.2 L904.8,336.5 L909.3,334.9 L913.8,333.4 L918.3,331.8 L922.8,330.2 L927.3,328.6 L931.7,327.1 L936.2,325.6 L940.7,324.6 L945.2,323.6 L949.7,322.7 L954.2,321.7 L958.7,320.8 L963.2,319.8 L967.7,318.9 L972.2,318.3 L976.7,317.8 L981.1,317.2 L985.6,316.6 L990.1,316.0 L994.6,315.5 L999.1,314.9 L1003.6,314.5 L1008.1,314.1 L1012.6,313.7 L1017.1,313.3 L1021.6,312.9 L1026.0,312.5 L1030.5,312.1 L1035.0,311.7 L1039.5,311.4 L1044.0,311.0 L1048.5,310.6 L1053.0,310.2 L1057.5,309.9 L1062.0,309.5 L1066.5,306.1 L1071.0,305.8 L1075.4,305.4 L1079.9,305.0 L1084.4,304.6 L1088.9,304.3 L1093.4,303.9 L1097.9,303.5 L1102.4,303.2 L1106.9,302.8 L1111.4,302.5 L1115.9,302.1 L1120.3,301.8 L1124.8,301.4 L1129.3,300.7 L1133.8,300.0 L1138.3,299.3 L1142.8,298.6 L1147.3,297.9 L1151.8,297.2 L1156.3,296.5 L1160.8,295.5 L1165.3,294.5 L1169.7,293.6 L1174.2,293.0 L1178.7,292.5 L1183.2,292.0 L1187.7,291.5 L1192.2,291.2 L1196.7,290.9 L1201.2,290.6 L1205.7,290.4 L1210.2,290.1 L1214.6,289.8 L1219.1,289.5 L1223.6,289.3 L1228.1,289.0 L1232.6,288.8 L1237.1,288.6 L1241.6,288.4 L1246.1,288.1 L1250.6,287.9 L1255.1,287.8 L1259.6,287.6 L1264.0,287.5 L1268.5,287.3 L1273.0,287.2 L1277.5,287.0 L1282.0,286.9 L1286.5,286.7 L1291.0,286.5 L1295.5,286.3 L1300.0,286.1 L1304.5,285.9 L1308.9,285.7 L1313.4,285.5 L1317.9,285.0 L1322.4,284.6 L1326.9,284.1 L1331.4,283.7 L1335.9,283.2 L1340.4,282.8 L1344.9,282.3 L1349.4,281.9 L1353.9,281.5 L1358.3,281.1 L1362.8,280.7 L1367.3,280.3 L1371.8,279.9 L1376.3,279.5 L1380.8,279.0 L1385.3,278.6 L1389.8,278.1 L1394.3,277.7 L1398.8,277.2 L1403.2,276.8 L1407.7,276.3 L1412.2,275.8 L1416.7,275.3 L1421.2,274.8 L1425.7,274.4 L1430.2,273.9 L1434.7,273.4 L1439.2,272.9 L1443.7,272.4 L1448.2,271.9 L1452.6,271.4 L1457.1,271.0 L1461.6,270.5 L1466.1,270.0 L1470.6,269.5 L1475.1,269.1 L1479.6,268.6 L1484.1,268.2 L1488.6,267.8 L1493.1,267.4 L1497.6,266.9 L1502.0,266.5 L1506.5,266.2 L1511.0,265.9 L1515.5,262.6 L1520.0,262.4 L1524.5,262.1 L1529.0,261.8 L1533.5,261.5 L1538.0,261.2 L1542.5,261.0 L1546.9,260.7 L1551.4,260.5 L1555.9,260.2 L1560.4,260.0 L1564.9,259.7 L1569.4,259.5 L1573.9,259.3 L1578.4,259.1 L1582.9,258.8 L1587.4,258.6 L1591.9,258.4 L1596.3,258.2 L1600.8,257.9 L1605.3,257.7 L1609.8,257.4 L1614.3,257.1 L1618.8,256.8 L1623.3,256.6 L1627.8,256.3 L1632.3,256.1 L1636.8,255.9 L1641.2,255.7 L1645.7,255.5 L1650.2,255.3 L1654.7,255.1 L1659.2,254.9 L1663.7,254.6 L1668.2,254.3 L1672.7,254.0 L1677.2,253.8 L1681.7,253.5 L1686.2,253.2 L1690.6,252.9 L1695.1,252.6 L1699.6,252.3 L1704.1,252.0 L1708.6,251.8 L1713.1,251.5 L1717.6,251.2 L1722.1,250.9 L1726.6,250.8 L1731.1,250.6 L1735.5,250.5 L1740.0,250.3 L1744.5,250.2 L1749.0,250.0 L1753.5,249.9 L1758.0,249.7 L1762.5,249.6 L1767.0,249.4 L1771.5,249.2 L1776.0,249.1 L1780.5,248.9"/>
<path id="s_magenta" d="M150.4,840.5 L154.9,836.9 L159.4,833.4 L163.9,829.8 L168.4,826.2 L172.9,822.6 L177.3,819.1 L181.8,815.4 L186.3,810.4 L190.8,805.2 L195.3,800.1 L199.8,795.0 L204.3,789.9 L208.8,784.9 L213.3,781.6 L217.8,777.7 L222.2,773.7 L226.7,769.7 L231.2,765.4 L235.7,758.0 L240.2,749.4 L244.7,745.0 L249.2,740.6 L253.7,736.1 L258.2,731.7 L262.7,727.0 L267.2,718.8 L271.6,709.4 L276.1,704.7 L280.6,701.7 L285.1,694.4 L289.6,686.6 L294.1,678.8 L298.6,671.0 L303.1,663.7 L307.6,661.5 L312.1,659.5 L316.5,654.3 L321.0,648.7 L325.5,643.1 L330.0,637.5 L334.5,632.3 L339.0,630.6 L343.5,628.5 L348.0,622.5 L352.5,616.2 L357.0,609.8 L361.5,603.5 L365.9,597.6 L370.4,595.8 L374.9,594.0 L379.4,589.2 L383.9,584.2 L388.4,579.1 L392.9,574.1 L397.4,569.3 L401.9,567.9 L406.4,566.3 L410.8,562.1 L415.3,557.7 L419.8,553.2 L424.3,548.7 L428.8,544.6 L433.3,542.9 L437.8,537.3 L442.3,529.6 L446.8,521.8 L451.3,514.0 L455.8,506.3 L460.2,498.6 L464.7,493.0 L469.2,489.5 L473.7,485.3 L478.2,480.9 L482.7,476.6 L487.2,472.3 L491.7,468.1 L496.2,465.0 L500.7,463.1 L505.1,461.2 L509.6,459.5 L514.1,458.8 L518.6,458.1 L523.1,457.5 L527.6,456.9 L532.1,456.6 L536.6,456.1 L541.1,455.6 L545.6,455.1 L550.1,454.7 L554.5,454.2 L559.0,453.9 L563.5,453.2 L568.0,452.2 L572.5,451.2 L577.0,450.2 L581.5,449.1 L586.0,448.1 L590.5,447.5 L595.0,446.8 L599.5,445.8 L603.9,444.7 L608.4,443.6 L612.9,442.6 L617.4,441.5 L621.9,440.9 L626.4,440.1 L630.9,438.8 L635.4,437.5 L639.9,436.2 L644.4,434.9 L648.8,433.7 L653.3,432.9 L657.8,431.9 L662.3,430.3 L666.8,428.7 L671.3,427.1 L675.8,425.5 L680.3,424.0 L684.8,423.0 L689.3,421.7 L693.8,419.6 L698.2,417.5 L702.7,415.4 L707.2,413.3 L711.7,411.3 L716.2,410.0 L720.7,408.5 L725.2,406.3 L729.7,404.0 L734.2,401.7 L738.7,399.4 L743.1,397.2 L747.6,395.8 L752.1,394.4 L756.6,392.2 L761.1,389.9 L765.6,387.6 L770.1,385.3 L774.6,383.2 L779.1,381.8 L783.6,380.7 L788.1,378.9 L792.5,377.2 L797.0,375.4 L801.5,373.6 L806.0,371.9 L810.5,370.8 L815.0,369.4 L819.5,367.2 L824.0,364.9 L828.5,362.6 L833.0,360.3 L837.4,358.2 L841.9,356.7 L846.4,354.6 L850.9,351.4 L855.4,348.0 L859.9,344.6 L864.4,341.2 L868.9,337.9 L873.4,335.9 L877.9,333.9 L882.4,331.0 L886.8,327.9 L891.3,324.8 L895.8,321.7 L900.3,318.7 L904.8,316.9 L909.3,315.3 L913.8,313.8 L918.3,312.2 L922.8,310.6 L927.3,309.0 L931.7,307.5 L936.2,306.0 L940.7,305.1 L945.2,304.2 L949.7,303.4 L954.2,302.5 L958.7,301.7 L963.2,300.8 L967.7,300.0 L972.2,299.5 L976.7,299.0 L981.1,298.5 L985.6,298.1 L990.1,297.6 L994.6,297.1 L999.1,296.6 L1003.6,296.2 L1008.1,295.7 L1012.6,295.3 L1017.1,294.8 L1021.6,294.4 L1026.0,293.9 L1030.5,293.5 L1035.0,293.0 L1039.5,292.5 L1044.0,292.0 L1048.5,291.6 L1053.0,291.1 L1057.5,290.6 L1062.0,290.1 L1066.5,285.9 L1071.0,286.6 L1075.4,287.2 L1079.9,287.1 L1084.4,286.9 L1088.9,286.7 L1093.4,286.5 L1097.9,286.2 L1102.4,285.9 L1106.9,285.6 L1111.4,285.3 L1115.9,285.0 L1120.3,284.7 L1124.8,284.4 L1129.3,283.8 L1133.8,283.1 L1138.3,282.5 L1142.8,281.8 L1147.3,281.2 L1151.8,280.5 L1156.3,279.9 L1160.8,278.7 L1165.3,277.6 L1169.7,276.4 L1174.2,275.7 L1178.7,275.0 L1183.2,274.3 L1187.7,273.6 L1192.2,273.2 L1196.7,272.9 L1201.2,272.5 L1205.7,272.1 L1210.2,271.7 L1214.6,271.4 L1219.1,271.0 L1223.6,270.8 L1228.1,270.6 L1232.6,270.4 L1237.1,270.2 L1241.6,270.0 L1246.1,269.8 L1250.6,269.6 L1255.1,269.5 L1259.6,269.4 L1264.0,269.3 L1268.5,269.1 L1273.0,269.0 L1277.5,268.9 L1282.0,268.8 L1286.5,268.6 L1291.0,268.4 L1295.5,268.2 L1300.0,268.1 L1304.5,267.9 L1308.9,267.7 L1313.4,267.5 L1317.9,267.3 L1322.4,267.0 L1326.9,266.8 L1331.4,266.6 L1335.9,266.4 L1340.4,266.1 L1344.9,265.9 L1349.4,265.7 L1353.9,265.4 L1358.3,265.2 L1362.8,265.0 L1367.3,264.8 L1371.8,264.5 L1376.3,264.3 L1380.8,264.1 L1385.3,263.9 L1389.8,263.7 L1394.3,263.5 L1398.8,263.3 L1403.2,263.1 L1407.7,262.9 L1412.2,262.4 L1416.7,261.9 L1421.2,261.4 L1425.7,261.0 L1430.2,260.5 L1434.7,260.0 L1439.2,259.5 L1443.7,258.9 L1448.2,258.2 L1452.6,257.6 L1457.1,256.9 L1461.6,256.3 L1466.1,255.6 L1470.6,255.0 L1475.1,254.5 L1479.6,254.0 L1484.1,253.5 L1488.6,253.1 L1493.1,252.6 L1497.6,252.1 L1502.0,251.6 L1506.5,251.3 L1511.0,251.0 L1515.5,250.7 L1520.0,250.4 L1524.5,250.1 L1529.0,249.8 L1533.5,249.5 L1538.0,249.2 L1542.5,248.9 L1546.9,248.6 L1551.4,248.4 L1555.9,248.1 L1560.4,247.8 L1564.9,247.5 L1569.4,247.2 L1573.9,246.9 L1578.4,246.6 L1582.9,246.4 L1587.4,246.1 L1591.9,245.8 L1596.3,245.5 L1600.8,245.2 L1605.3,245.0 L1609.8,244.7 L1614.3,244.4 L1618.8,244.1 L1623.3,243.9 L1627.8,243.6 L1632.3,243.3 L1636.8,243.0 L1641.2,242.7 L1645.7,242.5 L1650.2,242.2 L1654.7,241.9 L1659.2,241.6 L1663.7,241.2 L1668.2,240.9 L1672.7,240.5 L1677.2,240.1 L1681.7,239.7 L1686.2,239.4 L1690.6,239.0 L1695.1,238.7 L1699.6,238.4 L1704.1,238.1 L1708.6,237.9 L1713.1,237.6 L1717.6,237.3 L1722.1,237.0 L1726.6,236.8 L1731.1,236.6 L1735.5,236.4 L1740.0,236.2 L1744.5,236.0 L1749.0,235.8 L1753.5,235.6 L1758.0,235.4 L1762.5,235.2 L1767.0,235.0 L1771.5,234.8 L1776.0,234.6 L1780.5,234.4"/>
<path id="d_red" stroke-dasharray="14.949 19.882" d="M150.4,869.0 L154.9,868.9 L159.4,868.9 L163.9,868.8 L168.4,868.7 L172.9,868.6 L177.3,868.6 L181.8,868.5 L186.3,868.5 L190.8,868.5 L195.3,868.5 L199.8,868.5 L204.3,868.5 L208.8,868.5 L213.3,868.5 L217.8,868.5 L222.2,868.5 L226.7,868.5 L231.2,868.5 L235.7,868.5 L240.2,868.5 L244.7,868.5 L249.2,868.5 L253.7,868.5 L258.2,868.5 L262.7,868.5 L267.2,868.5 L271.6,868.5 L276.1,868.5 L280.6,868.5 L285.1,868.4 L289.6,868.4 L294.1,868.4 L298.6,868.4 L303.1,868.3 L307.6,868.3 L312.1,868.4 L316.5,868.4 L321.0,868.5 L325.5,868.6 L330.0,868.7 L334.5,868.7 L339.0,868.8 L343.5,868.6 L348.0,868.4 L352.5,868.2 L357.0,868.1 L361.5,867.9 L365.9,867.7 L370.4,867.5 L374.9,867.1 L379.4,866.6 L383.9,866.2 L388.4,865.7 L392.9,865.3 L397.4,864.8 L401.9,864.4 L406.4,863.8 L410.8,863.1 L415.3,862.5 L419.8,861.8 L424.3,861.2 L428.8,860.5 L433.3,859.8 L437.8,858.5 L442.3,857.1 L446.8,855.7 L451.3,854.2 L455.8,852.8 L460.2,851.4 L464.7,850.0 L469.2,848.4 L473.7,846.3 L478.2,844.1 L482.7,841.9 L487.2,839.6 L491.7,837.5 L496.2,835.8 L500.7,832.0 L505.1,828.0 L509.6,824.1 L514.1,820.1 L518.6,816.4 L523.1,815.3 L527.6,814.5 L532.1,813.5 L536.6,812.1 L541.1,806.3 L545.6,800.1 L550.1,793.9 L554.5,787.7 L559.0,781.8 L563.5,778.3 L568.0,773.9 L572.5,769.4 L577.0,764.9 L581.5,760.4 L586.0,756.0 L590.5,753.0 L595.0,749.5 L599.5,744.8 L603.9,739.9 L608.4,735.0 L612.9,730.1 L617.4,725.3 L621.9,722.0 L626.4,718.3 L630.9,713.1 L635.4,707.8 L639.9,702.5 L644.4,697.2 L648.8,692.1 L653.3,688.5 L657.8,685.1 L662.3,680.4 L666.8,675.6 L671.3,670.8 L675.8,665.9 L680.3,661.2 L684.8,658.0 L689.3,654.6 L693.8,649.8 L698.2,645.0 L702.7,640.1 L707.2,635.3 L711.7,630.6 L716.2,627.3 L720.7,623.6 L725.2,618.6 L729.7,613.4 L734.2,608.2 L738.7,603.0 L743.1,598.0 L747.6,594.5 L752.1,590.9 L756.6,585.9 L761.1,580.7 L765.6,575.6 L770.1,570.4 L774.6,565.5 L779.1,562.0 L783.6,558.8 L788.1,554.3 L792.5,549.7 L797.0,545.1 L801.5,540.5 L806.0,536.1 L810.5,533.0 L815.0,530.1 L819.5,526.1 L824.0,522.0 L828.5,517.9 L833.0,513.8 L837.4,509.8 L841.9,507.0 L846.4,504.7 L850.9,502.4 L855.4,500.1 L859.9,497.9 L864.4,495.6 L868.9,493.3 L873.4,491.0 L877.9,489.1 L882.4,487.3 L886.8,485.4 L891.3,483.6 L895.8,481.7 L900.3,479.9 L904.8,478.0 L909.3,476.3 L913.8,474.7 L918.3,473.0 L922.8,471.3 L927.3,469.6 L931.7,468.0 L936.2,466.3 L940.7,464.5 L945.2,462.6 L949.7,460.8 L954.2,459.0 L958.7,457.2 L963.2,455.3 L967.7,453.5 L972.2,451.6 L976.7,449.8 L981.1,447.9 L985.6,446.1 L990.1,444.2 L994.6,442.4 L999.1,440.5 L1003.6,438.4 L1008.1,436.4 L1012.6,434.3 L1017.1,432.2 L1021.6,430.1 L1026.0,428.1 L1030.5,426.0 L1035.0,423.9 L1039.5,421.9 L1044.0,419.8 L1048.5,417.8 L1053.0,415.7 L1057.5,413.7 L1062.0,411.6 L1066.5,409.8 L1071.0,407.9 L1075.4,406.1 L1079.9,404.2 L1084.4,402.4 L1088.9,400.5 L1093.4,398.7 L1097.9,396.9 L1102.4,395.1 L1106.9,393.3 L1111.4,391.4 L1115.9,389.6 L1120.3,387.8 L1124.8,386.0 L1129.3,384.2 L1133.8,382.5 L1138.3,380.7 L1142.8,379.0 L1147.3,377.2 L1151.8,375.5 L1156.3,373.7 L1160.8,372.0 L1165.3,370.4 L1169.7,368.7 L1174.2,367.0 L1178.7,365.3 L1183.2,363.7 L1187.7,362.0 L1192.2,360.6 L1196.7,359.3 L1201.2,357.9 L1205.7,356.6 L1210.2,355.2 L1214.6,353.9 L1219.1,352.5 L1223.6,351.4 L1228.1,350.4 L1232.6,349.3 L1237.1,348.2 L1241.6,347.1 L1246.1,346.1 L1250.6,345.0 L1255.1,344.1 L1259.6,343.3 L1264.0,342.4 L1268.5,341.6 L1273.0,340.7 L1277.5,339.9 L1282.0,339.0 L1286.5,338.5 L1291.0,338.0 L1295.5,337.5 L1300.0,336.9 L1304.5,336.4 L1308.9,335.9 L1313.4,335.4 L1317.9,335.0 L1322.4,334.6 L1326.9,334.2 L1331.4,333.8 L1335.9,333.4 L1340.4,333.0 L1344.9,332.6 L1349.4,332.3 L1353.9,332.0 L1358.3,331.7 L1362.8,331.3 L1367.3,331.0 L1371.8,330.7 L1376.3,330.4 L1380.8,330.1 L1385.3,329.9 L1389.8,329.6 L1394.3,329.4 L1398.8,329.1 L1403.2,328.9 L1407.7,328.6 L1412.2,328.3 L1416.7,328.0 L1421.2,327.7 L1425.7,327.5 L1430.2,327.2 L1434.7,326.9 L1439.2,326.6 L1443.7,326.4 L1448.2,326.1 L1452.6,325.9 L1457.1,325.7 L1461.6,325.5 L1466.1,325.2 L1470.6,325.0 L1475.1,324.7 L1479.6,324.5 L1484.1,324.2 L1488.6,324.0 L1493.1,323.7 L1497.6,323.5 L1502.0,323.2 L1506.5,322.9 L1511.0,322.7 L1515.5,322.4 L1520.0,322.2 L1524.5,321.9 L1529.0,321.7 L1533.5,321.4 L1538.0,321.2 L1542.5,320.9 L1546.9,320.7 L1551.4,320.5 L1555.9,320.3 L1560.4,320.0 L1564.9,319.8 L1569.4,319.6 L1573.9,319.3 L1578.4,319.1 L1582.9,318.9 L1587.4,318.7 L1591.9,318.4 L1596.3,318.2 L1600.8,317.8 L1605.3,317.5 L1609.8,317.1 L1614.3,316.7 L1618.8,316.3 L1623.3,316.0 L1627.8,315.6 L1632.3,315.2 L1636.8,314.9 L1641.2,314.5 L1645.7,314.1 L1650.2,313.7 L1654.7,313.4 L1659.2,313.0 L1663.7,312.5 L1668.2,312.0 L1672.7,311.5 L1677.2,310.9 L1681.7,310.4 L1686.2,309.9 L1690.6,309.4 L1695.1,309.1 L1699.6,308.8 L1704.1,308.5 L1708.6,308.1 L1713.1,307.8 L1717.6,307.5 L1722.1,307.2 L1726.6,306.8 L1731.1,306.4 L1735.5,306.0 L1740.0,305.6 L1744.5,305.2 L1749.0,304.8 L1753.5,304.4 L1758.0,304.1 L1762.5,303.8 L1767.0,303.4 L1771.5,303.1 L1776.0,302.8 L1780.5,302.5"/>
<path id="d_green" stroke-dasharray="14.977 19.919" d="M150.4,870.5 L154.9,870.3 L159.4,870.0 L163.9,869.8 L168.4,869.5 L172.9,869.3 L177.3,869.0 L181.8,868.8 L186.3,868.8 L190.8,868.8 L195.3,868.8 L199.8,868.8 L204.3,868.8 L208.8,868.8 L213.3,868.8 L217.8,868.8 L222.2,868.8 L226.7,868.8 L231.2,868.8 L235.7,868.8 L240.2,868.8 L244.7,868.8 L249.2,868.8 L253.7,868.8 L258.2,868.8 L262.7,868.8 L267.2,868.8 L271.6,868.8 L276.1,868.8 L280.6,868.8 L285.1,868.8 L289.6,868.8 L294.1,868.7 L298.6,868.7 L303.1,868.7 L307.6,868.7 L312.1,868.9 L316.5,869.0 L321.0,869.2 L325.5,869.3 L330.0,869.5 L334.5,869.6 L339.0,869.8 L343.5,869.6 L348.0,869.5 L352.5,869.3 L357.0,869.1 L361.5,868.9 L365.9,868.8 L370.4,868.6 L374.9,868.2 L379.4,867.7 L383.9,867.3 L388.4,866.9 L392.9,866.5 L397.4,866.0 L401.9,865.6 L406.4,865.0 L410.8,864.3 L415.3,863.7 L419.8,863.1 L424.3,862.5 L428.8,861.8 L433.3,861.2 L437.8,860.4 L442.3,859.6 L446.8,858.8 L451.3,858.1 L455.8,857.3 L460.2,856.5 L464.7,855.6 L469.2,854.1 L473.7,852.0 L478.2,849.8 L482.7,847.6 L487.2,845.3 L491.7,843.2 L496.2,841.6 L500.7,838.8 L505.1,835.9 L509.6,832.9 L514.1,830.0 L518.6,827.3 L523.1,826.3 L527.6,825.5 L532.1,824.5 L536.6,823.3 L541.1,820.0 L545.6,816.5 L550.1,813.0 L554.5,809.5 L559.0,806.1 L563.5,803.3 L568.0,799.5 L572.5,795.6 L577.0,791.7 L581.5,787.8 L586.0,784.0 L590.5,781.4 L595.0,778.7 L599.5,775.1 L603.9,771.3 L608.4,767.6 L612.9,763.8 L617.4,760.1 L621.9,757.6 L626.4,755.3 L630.9,752.2 L635.4,749.0 L639.9,745.7 L644.4,742.5 L648.8,739.4 L653.3,737.2 L657.8,734.9 L662.3,731.8 L666.8,728.5 L671.3,725.3 L675.8,722.0 L680.3,718.9 L684.8,716.7 L689.3,714.1 L693.8,710.6 L698.2,707.0 L702.7,703.3 L707.2,699.7 L711.7,696.1 L716.2,693.7 L720.7,691.0 L725.2,687.4 L729.7,683.6 L734.2,679.8 L738.7,676.0 L743.1,672.3 L747.6,669.8 L752.1,667.2 L756.6,663.7 L761.1,660.1 L765.6,656.4 L770.1,652.8 L774.6,649.2 L779.1,646.8 L783.6,644.4 L788.1,641.0 L792.5,637.5 L797.0,634.1 L801.5,630.6 L806.0,627.2 L810.5,624.9 L815.0,622.6 L819.5,619.5 L824.0,616.3 L828.5,613.0 L833.0,609.8 L837.4,606.7 L841.9,604.5 L846.4,602.1 L850.9,599.7 L855.4,597.3 L859.9,594.9 L864.4,592.5 L868.9,590.1 L873.4,587.7 L877.9,585.6 L882.4,583.4 L886.8,581.3 L891.3,579.1 L895.8,577.0 L900.3,574.8 L904.8,572.7 L909.3,570.4 L913.8,568.1 L918.3,565.8 L922.8,563.6 L927.3,561.3 L931.7,559.0 L936.2,556.7 L940.7,554.6 L945.2,552.4 L949.7,550.3 L954.2,548.2 L958.7,546.1 L963.2,543.9 L967.7,541.8 L972.2,539.7 L976.7,537.5 L981.1,535.4 L985.6,533.2 L990.1,531.1 L994.6,528.9 L999.1,526.8 L1003.6,524.3 L1008.1,521.8 L1012.6,519.3 L1017.1,516.7 L1021.6,514.2 L1026.0,511.7 L1030.5,509.2 L1035.0,506.7 L1039.5,504.2 L1044.0,501.7 L1048.5,499.3 L1053.0,496.8 L1057.5,494.3 L1062.0,491.8 L1066.5,489.5 L1071.0,487.2 L1075.4,484.9 L1079.9,482.7 L1084.4,480.4 L1088.9,478.1 L1093.4,475.8 L1097.9,473.5 L1102.4,471.2 L1106.9,468.9 L1111.4,466.6 L1115.9,464.3 L1120.3,462.0 L1124.8,459.7 L1129.3,457.6 L1133.8,455.5 L1138.3,453.4 L1142.8,451.2 L1147.3,449.1 L1151.8,447.0 L1156.3,444.9 L1160.8,443.0 L1165.3,441.1 L1169.7,439.2 L1174.2,437.3 L1178.7,435.4 L1183.2,433.5 L1187.7,431.6 L1192.2,430.2 L1196.7,428.7 L1201.2,427.3 L1205.7,425.8 L1210.2,424.4 L1214.6,422.9 L1219.1,421.5 L1223.6,420.5 L1228.1,419.4 L1232.6,418.4 L1237.1,417.4 L1241.6,416.4 L1246.1,415.3 L1250.6,414.3 L1255.1,413.6 L1259.6,412.8 L1264.0,412.1 L1268.5,411.3 L1273.0,410.6 L1277.5,409.8 L1282.0,409.1 L1286.5,408.5 L1291.0,407.8 L1295.5,407.2 L1300.0,406.6 L1304.5,406.0 L1308.9,405.3 L1313.4,404.7 L1317.9,404.3 L1322.4,403.9 L1326.9,403.5 L1331.4,403.1 L1335.9,402.7 L1340.4,402.3 L1344.9,401.9 L1349.4,401.5 L1353.9,401.2 L1358.3,400.8 L1362.8,400.4 L1367.3,400.0 L1371.8,399.7 L1376.3,399.3 L1380.8,398.9 L1385.3,398.6 L1389.8,398.2 L1394.3,397.8 L1398.8,397.4 L1403.2,397.1 L1407.7,396.7 L1412.2,396.3 L1416.7,396.0 L1421.2,395.6 L1425.7,395.2 L1430.2,394.8 L1434.7,394.5 L1439.2,394.1 L1443.7,393.8 L1448.2,393.4 L1452.6,393.1 L1457.1,392.7 L1461.6,392.4 L1466.1,392.0 L1470.6,391.7 L1475.1,391.4 L1479.6,391.1 L1484.1,390.8 L1488.6,390.6 L1493.1,390.3 L1497.6,390.0 L1502.0,389.7 L1506.5,389.3 L1511.0,388.9 L1515.5,388.5 L1520.0,388.1 L1524.5,387.7 L1529.0,387.3 L1533.5,386.9 L1538.0,386.6 L1542.5,386.3 L1546.9,386.0 L1551.4,385.8 L1555.9,385.5 L1560.4,385.2 L1564.9,384.9 L1569.4,384.6 L1573.9,384.2 L1578.4,383.9 L1582.9,383.6 L1587.4,383.3 L1591.9,382.9 L1596.3,382.6 L1600.8,382.2 L1605.3,381.8 L1609.8,381.4 L1614.3,380.9 L1618.8,380.5 L1623.3,380.1 L1627.8,379.7 L1632.3,379.3 L1636.8,379.0 L1641.2,378.6 L1645.7,378.2 L1650.2,377.8 L1654.7,377.5 L1659.2,377.1 L1663.7,376.6 L1668.2,376.1 L1672.7,375.6 L1677.2,375.2 L1681.7,374.7 L1686.2,374.2 L1690.6,373.7 L1695.1,373.3 L1699.6,372.9 L1704.1,372.5 L1708.6,372.1 L1713.1,371.7 L1717.6,371.3 L1722.1,370.9 L1726.6,370.6 L1731.1,370.4 L1735.5,370.1 L1740.0,369.9 L1744.5,369.6 L1749.0,369.4 L1753.5,369.1 L1758.0,368.8 L1762.5,368.4 L1767.0,368.1 L1771.5,367.8 L1776.0,367.4 L1780.5,367.1"/>
<path id="d_navy" stroke-dasharray="14.974 19.915" d="M150.4,869.5 L154.9,869.5 L159.4,869.4 L163.9,869.4 L168.4,869.3 L172.9,869.3 L177.3,869.2 L181.8,869.2 L186.3,869.2 L190.8,869.2 L195.3,869.2 L199.8,869.2 L204.3,869.2 L208.8,869.2 L213.3,869.2 L217.8,869.2 L222.2,869.2 L226.7,869.2 L231.2,869.2 L235.7,869.2 L240.2,869.2 L244.7,869.2 L249.2,869.2 L253.7,869.2 L258.2,869.2 L262.7,869.2 L267.2,869.2 L271.6,869.2 L276.1,869.2 L280.6,869.2 L285.1,869.1 L289.6,869.1 L294.1,869.1 L298.6,869.1 L303.1,869.0 L307.6,869.0 L312.1,869.0 L316.5,869.1 L321.0,869.1 L325.5,869.1 L330.0,869.1 L334.5,869.2 L339.0,869.2 L343.5,869.0 L348.0,868.9 L352.5,868.7 L357.0,868.5 L361.5,868.3 L365.9,868.2 L370.4,868.0 L374.9,867.6 L379.4,867.1 L383.9,866.7 L388.4,866.3 L392.9,865.9 L397.4,865.4 L401.9,865.0 L406.4,864.4 L410.8,863.7 L415.3,863.1 L419.8,862.4 L424.3,861.8 L428.8,861.1 L433.3,860.5 L437.8,859.5 L442.3,858.6 L446.8,857.6 L451.3,856.6 L455.8,855.6 L460.2,854.7 L464.7,853.6 L469.2,852.0 L473.7,849.5 L478.2,847.0 L482.7,844.6 L487.2,842.1 L491.7,839.7 L496.2,837.8 L500.7,834.2 L505.1,830.4 L509.6,826.7 L514.1,822.9 L518.6,819.3 L523.1,818.3 L527.6,817.5 L532.1,816.5 L536.6,815.2 L541.1,810.7 L545.6,805.9 L550.1,801.1 L554.5,796.3 L559.0,791.6 L563.5,788.2 L568.0,783.7 L572.5,779.0 L577.0,774.3 L581.5,769.7 L586.0,765.1 L590.5,761.9 L595.0,758.1 L599.5,752.7 L603.9,747.2 L608.4,741.6 L612.9,736.1 L617.4,730.7 L621.9,727.0 L626.4,723.1 L630.9,717.7 L635.4,712.2 L639.9,706.6 L644.4,701.1 L648.8,695.7 L653.3,692.0 L657.8,688.5 L662.3,683.8 L666.8,678.9 L671.3,674.0 L675.8,669.1 L680.3,664.3 L684.8,661.0 L689.3,657.5 L693.8,652.8 L698.2,647.9 L702.7,643.0 L707.2,638.1 L711.7,633.3 L716.2,630.0 L720.7,626.3 L725.2,621.1 L729.7,615.8 L734.2,610.5 L738.7,605.2 L743.1,600.1 L747.6,596.5 L752.1,592.8 L756.6,587.7 L761.1,582.5 L765.6,577.3 L770.1,572.1 L774.6,567.0 L779.1,563.5 L783.6,560.2 L788.1,555.7 L792.5,551.0 L797.0,546.3 L801.5,541.7 L806.0,537.1 L810.5,534.0 L815.0,531.0 L819.5,527.0 L824.0,522.8 L828.5,518.6 L833.0,514.4 L837.4,510.3 L841.9,507.5 L846.4,505.4 L850.9,503.2 L855.4,501.1 L859.9,498.9 L864.4,496.8 L868.9,494.6 L873.4,492.5 L877.9,490.9 L882.4,489.2 L886.8,487.6 L891.3,485.9 L895.8,484.3 L900.3,482.6 L904.8,481.0 L909.3,479.6 L913.8,478.1 L918.3,476.7 L922.8,475.3 L927.3,473.9 L931.7,472.4 L936.2,471.0 L940.7,469.7 L945.2,468.4 L949.7,467.1 L954.2,465.9 L958.7,464.6 L963.2,463.3 L967.7,462.0 L972.2,460.4 L976.7,458.7 L981.1,457.1 L985.6,455.4 L990.1,453.8 L994.6,452.1 L999.1,450.5 L1003.6,448.7 L1008.1,446.9 L1012.6,445.1 L1017.1,443.4 L1021.6,441.6 L1026.0,439.8 L1030.5,438.0 L1035.0,436.4 L1039.5,434.9 L1044.0,433.3 L1048.5,431.7 L1053.0,430.1 L1057.5,428.6 L1062.0,427.0 L1066.5,425.4 L1071.0,423.7 L1075.4,422.1 L1079.9,420.4 L1084.4,418.8 L1088.9,417.1 L1093.4,415.5 L1097.9,413.7 L1102.4,411.9 L1106.9,410.1 L1111.4,408.2 L1115.9,406.4 L1120.3,404.6 L1124.8,402.8 L1129.3,400.9 L1133.8,399.0 L1138.3,397.1 L1142.8,395.2 L1147.3,393.3 L1151.8,391.4 L1156.3,389.5 L1160.8,387.8 L1165.3,386.1 L1169.7,384.4 L1174.2,382.7 L1178.7,381.0 L1183.2,379.3 L1187.7,377.6 L1192.2,376.3 L1196.7,375.0 L1201.2,373.7 L1205.7,372.4 L1210.2,371.1 L1214.6,369.8 L1219.1,368.5 L1223.6,367.6 L1228.1,366.6 L1232.6,365.7 L1237.1,364.8 L1241.6,363.9 L1246.1,362.9 L1250.6,362.0 L1255.1,361.3 L1259.6,360.6 L1264.0,359.9 L1268.5,359.1 L1273.0,358.4 L1277.5,357.7 L1282.0,357.0 L1286.5,356.7 L1291.0,356.4 L1295.5,356.1 L1300.0,355.7 L1304.5,355.4 L1308.9,355.1 L1313.4,354.8 L1317.9,354.4 L1322.4,354.0 L1326.9,353.6 L1331.4,353.2 L1335.9,352.8 L1340.4,352.4 L1344.9,352.0 L1349.4,351.7 L1353.9,351.4 L1358.3,351.1 L1362.8,350.7 L1367.3,350.4 L1371.8,350.1 L1376.3,349.8 L1380.8,349.5 L1385.3,349.3 L1389.8,349.0 L1394.3,348.8 L1398.8,348.5 L1403.2,348.3 L1407.7,348.0 L1412.2,347.7 L1416.7,347.4 L1421.2,347.1 L1425.7,346.9 L1430.2,346.6 L1434.7,346.3 L1439.2,346.0 L1443.7,345.8 L1448.2,345.5 L1452.6,345.3 L1457.1,345.1 L1461.6,344.9 L1466.1,344.6 L1470.6,344.4 L1475.1,344.1 L1479.6,343.9 L1484.1,343.6 L1488.6,343.4 L1493.1,343.1 L1497.6,342.9 L1502.0,342.6 L1506.5,342.3 L1511.0,342.1 L1515.5,341.8 L1520.0,341.6 L1524.5,341.3 L1529.0,341.1 L1533.5,340.8 L1538.0,340.6 L1542.5,340.3 L1546.9,340.1 L1551.4,339.9 L1555.9,339.7 L1560.4,339.4 L1564.9,339.2 L1569.4,339.0 L1573.9,338.7 L1578.4,338.5 L1582.9,338.3 L1587.4,338.1 L1591.9,337.8 L1596.3,337.6 L1600.8,337.2 L1605.3,336.9 L1609.8,336.5 L1614.3,336.1 L1618.8,335.7 L1623.3,335.4 L1627.8,335.0 L1632.3,334.6 L1636.8,334.3 L1641.2,333.9 L1645.7,333.5 L1650.2,333.1 L1654.7,332.8 L1659.2,332.4 L1663.7,331.9 L1668.2,331.4 L1672.7,330.9 L1677.2,330.3 L1681.7,329.8 L1686.2,329.3 L1690.6,328.8 L1695.1,328.5 L1699.6,328.2 L1704.1,327.9 L1708.6,327.5 L1713.1,327.2 L1717.6,326.9 L1722.1,326.6 L1726.6,326.2 L1731.1,325.8 L1735.5,325.4 L1740.0,325.0 L1744.5,324.6 L1749.0,324.2 L1753.5,323.8 L1758.0,323.5 L1762.5,323.2 L1767.0,322.9 L1771.5,322.5 L1776.0,322.2 L1780.5,321.9"/>
<path id="d_blue" stroke-dasharray="14.945 19.877" d="M150.4,868.5 L154.9,868.4 L159.4,868.4 L163.9,868.3 L168.4,868.2 L172.9,868.1 L177.3,868.1 L181.8,868.0 L186.3,868.0 L190.8,868.0 L195.3,868.0 L199.8,868.0 L204.3,868.0 L208.8,868.0 L213.3,868.0 L217.8,868.0 L222.2,868.0 L226.7,868.0 L231.2,868.0 L235.7,868.0 L240.2,868.0 L244.7,868.0 L249.2,868.0 L253.7,868.0 L258.2,868.0 L262.7,868.0 L267.2,868.0 L271.6,868.0 L276.1,868.0 L280.6,868.0 L285.1,867.9 L289.6,867.9 L294.1,867.9 L298.6,867.9 L303.1,867.8 L307.6,867.8 L312.1,867.8 L316.5,867.8 L321.0,867.8 L325.5,867.7 L330.0,867.7 L334.5,867.7 L339.0,867.7 L343.5,867.5 L348.0,867.3 L352.5,867.1 L357.0,866.9 L361.5,866.7 L365.9,866.5 L370.4,866.3 L374.9,865.8 L379.4,865.4 L383.9,864.9 L388.4,864.4 L392.9,863.9 L397.4,863.5 L401.9,863.0 L406.4,862.3 L410.8,861.7 L415.3,861.0 L419.8,860.3 L424.3,859.6 L428.8,859.0 L433.3,858.2 L437.8,856.7 L442.3,855.1 L446.8,853.5 L451.3,851.8 L455.8,850.2 L460.2,848.6 L464.7,846.9 L469.2,844.7 L473.7,841.4 L478.2,838.1 L482.7,834.8 L487.2,831.5 L491.7,828.2 L496.2,825.8 L500.7,821.8 L505.1,817.6 L509.6,813.5 L514.1,809.3 L518.6,805.4 L523.1,804.3 L527.6,803.5 L532.1,802.5 L536.6,801.1 L541.1,796.1 L545.6,790.7 L550.1,785.3 L554.5,779.9 L559.0,774.7 L563.5,771.0 L568.0,766.1 L572.5,761.2 L577.0,756.2 L581.5,751.2 L586.0,746.3 L590.5,743.1 L595.0,740.5 L599.5,737.2 L603.9,733.7 L608.4,730.2 L612.9,726.7 L617.4,723.3 L621.9,720.9 L626.4,717.3 L630.9,712.1 L635.4,706.8 L639.9,701.6 L644.4,696.3 L648.8,691.1 L653.3,687.6 L657.8,684.2 L662.3,679.5 L666.8,674.6 L671.3,669.8 L675.8,665.0 L680.3,660.3 L684.8,657.0 L689.3,653.6 L693.8,648.8 L698.2,644.0 L702.7,639.1 L707.2,634.3 L711.7,629.6 L716.2,626.3 L720.7,622.6 L725.2,617.6 L729.7,612.4 L734.2,607.2 L738.7,602.0 L743.1,597.0 L747.6,593.5 L752.1,589.9 L756.6,584.9 L761.1,579.7 L765.6,574.6 L770.1,569.4 L774.6,564.5 L779.1,561.0 L783.6,557.8 L788.1,553.3 L792.5,548.7 L797.0,544.1 L801.5,539.5 L806.0,535.1 L810.5,532.0 L815.0,529.1 L819.5,525.1 L824.0,521.0 L828.5,516.9 L833.0,512.8 L837.4,508.8 L841.9,506.0 L846.4,503.6 L850.9,501.1 L855.4,498.7 L859.9,496.3 L864.4,493.9 L868.9,491.4 L873.4,489.0 L877.9,487.0 L882.4,485.0 L886.8,483.0 L891.3,481.0 L895.8,479.0 L900.3,477.0 L904.8,475.0 L909.3,473.4 L913.8,471.7 L918.3,470.1 L922.8,468.5 L927.3,466.9 L931.7,465.2 L936.2,463.6 L940.7,461.8 L945.2,460.1 L949.7,458.3 L954.2,456.6 L958.7,454.8 L963.2,453.1 L967.7,451.3 L972.2,449.5 L976.7,447.8 L981.1,446.0 L985.6,444.3 L990.1,442.5 L994.6,440.8 L999.1,439.0 L1003.6,437.2 L1008.1,435.4 L1012.6,433.6 L1017.1,431.9 L1021.6,430.1 L1026.0,428.3 L1030.5,426.5 L1035.0,424.9 L1039.5,423.2 L1044.0,421.6 L1048.5,419.9 L1053.0,418.3 L1057.5,416.6 L1062.0,415.0 L1066.5,413.4 L1071.0,411.7 L1075.4,410.1 L1079.9,408.4 L1084.4,406.8 L1088.9,405.1 L1093.4,403.5 L1097.9,401.7 L1102.4,400.0 L1106.9,398.2 L1111.4,396.5 L1115.9,394.7 L1120.3,393.0 L1124.8,391.2 L1129.3,389.5 L1133.8,387.8 L1138.3,386.1 L1142.8,384.4 L1147.3,382.7 L1151.8,381.0 L1156.3,379.3 L1160.8,377.8 L1165.3,376.2 L1169.7,374.7 L1174.2,373.2 L1178.7,371.7 L1183.2,370.1 L1187.7,368.6 L1192.2,367.3 L1196.7,366.0 L1201.2,364.7 L1205.7,363.4 L1210.2,362.1 L1214.6,360.8 L1219.1,359.5 L1223.6,358.5 L1228.1,357.4 L1232.6,356.4 L1237.1,355.4 L1241.6,354.4 L1246.1,353.3 L1250.6,352.3 L1255.1,351.6 L1259.6,350.9 L1264.0,350.2 L1268.5,349.4 L1273.0,348.7 L1277.5,348.0 L1282.0,347.3 L1286.5,347.0 L1291.0,346.6 L1295.5,346.3 L1300.0,346.0 L1304.5,345.7 L1308.9,345.3 L1313.4,345.0 L1317.9,344.6 L1322.4,344.3 L1326.9,343.9 L1331.4,343.5 L1335.9,343.1 L1340.4,342.8 L1344.9,342.4 L1349.4,342.1 L1353.9,341.8 L1358.3,341.5 L1362.8,341.1 L1367.3,340.8 L1371.8,340.5 L1376.3,340.2 L1380.8,339.9 L1385.3,339.7 L1389.8,339.4 L1394.3,339.2 L1398.8,338.9 L1403.2,338.7 L1407.7,338.4 L1412.2,338.1 L1416.7,337.8 L1421.2,337.5 L1425.7,337.3 L1430.2,337.0 L1434.7,336.7 L1439.2,336.4 L1443.7,336.2 L1448.2,335.9 L1452.6,335.7 L1457.1,335.5 L1461.6,335.3 L1466.1,335.0 L1470.6,334.8 L1475.1,334.5 L1479.6,334.2 L1484.1,333.9 L1488.6,333.7 L1493.1,333.4 L1497.6,333.1 L1502.0,332.8 L1506.5,332.5 L1511.0,332.2 L1515.5,331.9 L1520.0,331.7 L1524.5,331.4 L1529.0,331.1 L1533.5,330.8 L1538.0,330.6 L1542.5,330.3 L1546.9,330.1 L1551.4,329.9 L1555.9,329.7 L1560.4,329.4 L1564.9,329.2 L1569.4,329.0 L1573.9,328.8 L1578.4,328.6 L1582.9,328.4 L1587.4,328.2 L1591.9,328.0 L1596.3,327.8 L1600.8,327.5 L1605.3,327.2 L1609.8,326.9 L1614.3,326.5 L1618.8,326.2 L1623.3,325.9 L1627.8,325.6 L1632.3,325.3 L1636.8,325.0 L1641.2,324.7 L1645.7,324.3 L1650.2,324.0 L1654.7,323.7 L1659.2,323.4 L1663.7,322.9 L1668.2,322.5 L1672.7,322.0 L1677.2,321.6 L1681.7,321.1 L1686.2,320.7 L1690.6,320.2 L1695.1,319.9 L1699.6,319.7 L1704.1,319.4 L1708.6,319.1 L1713.1,318.8 L1717.6,318.6 L1722.1,318.3 L1726.6,317.9 L1731.1,317.6 L1735.5,317.2 L1740.0,316.9 L1744.5,316.5 L1749.0,316.2 L1753.5,315.8 L1758.0,315.5 L1762.5,315.2 L1767.0,314.8 L1771.5,314.5 L1776.0,314.2 L1780.5,313.9"/>
<path id="d_cyan" stroke-dasharray="14.978 19.921" d="M150.4,869.0 L154.9,868.9 L159.4,868.8 L163.9,868.7 L168.4,868.6 L172.9,868.5 L177.3,868.4 L181.8,868.3 L186.3,868.3 L190.8,868.3 L195.3,868.3 L199.8,868.3 L204.3,868.3 L208.8,868.3 L213.3,868.3 L217.8,868.3 L222.2,868.3 L226.7,868.3 L231.2,868.3 L235.7,868.3 L240.2,868.3 L244.7,868.3 L249.2,868.3 L253.7,868.3 L258.2,868.3 L262.7,868.3 L267.2,868.3 L271.6,868.3 L276.1,868.3 L280.6,868.3 L285.1,868.2 L289.6,868.2 L294.1,868.2 L298.6,868.2 L303.1,868.1 L307.6,868.1 L312.1,868.2 L316.5,868.2 L321.0,868.3 L325.5,868.3 L330.0,868.4 L334.5,868.4 L339.0,868.5 L343.5,868.3 L348.0,868.1 L352.5,867.9 L357.0,867.8 L361.5,867.6 L365.9,867.4 L370.4,867.2 L374.9,866.8 L379.4,866.3 L383.9,865.9 L388.4,865.5 L392.9,865.1 L397.4,864.6 L401.9,864.2 L406.4,863.6 L410.8,862.9 L415.3,862.3 L419.8,861.6 L424.3,861.0 L428.8,860.3 L433.3,859.6 L437.8,858.4 L442.3,857.1 L446.8,855.8 L451.3,854.6 L455.8,853.3 L460.2,852.0 L464.7,850.7 L469.2,849.0 L473.7,846.7 L478.2,844.3 L482.7,841.9 L487.2,839.5 L491.7,837.1 L496.2,835.3 L500.7,831.1 L505.1,826.7 L509.6,822.4 L514.1,818.0 L518.6,813.9 L523.1,812.8 L527.6,812.0 L532.1,811.0 L536.6,809.6 L541.1,803.9 L545.6,797.8 L550.1,791.7 L554.5,785.6 L559.0,779.7 L563.5,776.2 L568.0,771.7 L572.5,767.0 L577.0,762.3 L581.5,757.7 L586.0,753.1 L590.5,750.0 L595.0,746.3 L599.5,741.2 L603.9,736.0 L608.4,730.8 L612.9,725.6 L617.4,720.5 L621.9,717.0 L626.4,713.3 L630.9,708.2 L635.4,703.0 L639.9,697.8 L644.4,692.6 L648.8,687.5 L653.3,684.0 L657.8,680.5 L662.3,675.8 L666.8,670.9 L671.3,666.0 L675.8,661.1 L680.3,656.3 L684.8,653.0 L689.3,649.6 L693.8,644.9 L698.2,640.1 L702.7,635.3 L707.2,630.4 L711.7,625.7 L716.2,622.5 L720.7,618.9 L725.2,613.9 L729.7,608.7 L734.2,603.6 L738.7,598.4 L743.1,593.5 L747.6,590.0 L752.1,586.5 L756.6,581.8 L761.1,576.9 L765.6,572.0 L770.1,567.1 L774.6,562.3 L779.1,559.1 L783.6,556.4 L788.1,552.9 L792.5,549.3 L797.0,545.6 L801.5,542.0 L806.0,538.4 L810.5,536.0 L815.0,533.8 L819.5,530.7 L824.0,527.5 L828.5,524.4 L833.0,521.2 L837.4,518.1 L841.9,516.0 L846.4,513.5 L850.9,511.1 L855.4,508.6 L859.9,506.1 L864.4,503.6 L868.9,501.2 L873.4,498.7 L877.9,496.7 L882.4,494.8 L886.8,492.8 L891.3,490.9 L895.8,488.9 L900.3,487.0 L904.8,485.0 L909.3,483.2 L913.8,481.4 L918.3,479.6 L922.8,477.8 L927.3,476.0 L931.7,474.2 L936.2,472.4 L940.7,470.6 L945.2,468.9 L949.7,467.1 L954.2,465.3 L958.7,463.5 L963.2,461.8 L967.7,460.0 L972.2,458.1 L976.7,456.2 L981.1,454.3 L985.6,452.4 L990.1,450.5 L994.6,448.6 L999.1,446.7 L1003.6,444.9 L1008.1,443.1 L1012.6,441.3 L1017.1,439.4 L1021.6,437.6 L1026.0,435.8 L1030.5,434.0 L1035.0,432.3 L1039.5,430.6 L1044.0,428.9 L1048.5,427.1 L1053.0,425.4 L1057.5,423.7 L1062.0,422.0 L1066.5,420.4 L1071.0,418.7 L1075.4,417.1 L1079.9,415.5 L1084.4,413.9 L1088.9,412.2 L1093.4,410.6 L1097.9,408.9 L1102.4,407.2 L1106.9,405.5 L1111.4,403.7 L1115.9,402.0 L1120.3,400.3 L1124.8,398.6 L1129.3,396.8 L1133.8,395.0 L1138.3,393.2 L1142.8,391.4 L1147.3,389.6 L1151.8,387.8 L1156.3,386.0 L1160.8,384.7 L1165.3,383.3 L1169.7,382.0 L1174.2,380.7 L1178.7,379.4 L1183.2,378.0 L1187.7,376.7 L1192.2,375.7 L1196.7,374.6 L1201.2,373.6 L1205.7,372.6 L1210.2,371.6 L1214.6,370.5 L1219.1,369.5 L1223.6,368.6 L1228.1,367.8 L1232.6,366.9 L1237.1,366.1 L1241.6,365.2 L1246.1,364.4 L1250.6,363.5 L1255.1,362.9 L1259.6,362.4 L1264.0,361.8 L1268.5,361.2 L1273.0,360.6 L1277.5,360.1 L1282.0,359.5 L1286.5,359.3 L1291.0,359.1 L1295.5,358.9 L1300.0,358.6 L1304.5,358.4 L1308.9,358.2 L1313.4,358.0 L1317.9,357.6 L1322.4,357.3 L1326.9,356.9 L1331.4,356.6 L1335.9,356.2 L1340.4,355.9 L1344.9,355.5 L1349.4,355.2 L1353.9,354.9 L1358.3,354.6 L1362.8,354.2 L1367.3,353.9 L1371.8,353.6 L1376.3,353.3 L1380.8,353.0 L1385.3,352.8 L1389.8,352.5 L1394.3,352.3 L1398.8,352.0 L1403.2,351.8 L1407.7,351.5 L1412.2,351.2 L1416.7,350.9 L1421.2,350.6 L1425.7,350.4 L1430.2,350.1 L1434.7,349.8 L1439.2,349.5 L1443.7,349.3 L1448.2,349.0 L1452.6,348.8 L1457.1,348.5 L1461.6,348.3 L1466.1,348.0 L1470.6,347.8 L1475.1,347.5 L1479.6,347.2 L1484.1,346.9 L1488.6,346.7 L1493.1,346.4 L1497.6,346.1 L1502.0,345.8 L1506.5,345.5 L1511.0,345.2 L1515.5,344.9 L1520.0,344.7 L1524.5,344.4 L1529.0,344.1 L1533.5,343.8 L1538.0,343.6 L1542.5,343.3 L1546.9,343.1 L1551.4,342.9 L1555.9,342.7 L1560.4,342.4 L1564.9,342.2 L1569.4,342.0 L1573.9,341.7 L1578.4,341.5 L1582.9,341.2 L1587.4,341.0 L1591.9,340.7 L1596.3,340.5 L1600.8,340.1 L1605.3,339.7 L1609.8,339.3 L1614.3,339.0 L1618.8,338.6 L1623.3,338.2 L1627.8,337.8 L1632.3,337.4 L1636.8,337.1 L1641.2,336.7 L1645.7,336.3 L1650.2,335.9 L1654.7,335.6 L1659.2,335.2 L1663.7,334.7 L1668.2,334.2 L1672.7,333.7 L1677.2,333.1 L1681.7,332.6 L1686.2,332.1 L1690.6,331.6 L1695.1,331.3 L1699.6,330.9 L1704.1,330.6 L1708.6,330.3 L1713.1,330.0 L1717.6,329.6 L1722.1,329.3 L1726.6,328.9 L1731.1,328.5 L1735.5,328.1 L1740.0,327.7 L1744.5,327.3 L1749.0,326.9 L1753.5,326.5 L1758.0,326.2 L1762.5,325.9 L1767.0,325.6 L1771.5,325.2 L1776.0,324.9 L1780.5,324.6"/>
<path id="d_yellow" stroke-dasharray="14.960 19.896" d="M150.4,868.8 L154.9,868.7 L159.4,868.7 L163.9,868.6 L168.4,868.5 L172.9,868.4 L177.3,868.4 L181.8,868.3 L186.3,868.3 L190.8,868.3 L195.3,868.3 L199.8,868.3 L204.3,868.3 L208.8,868.3 L213.3,868.3 L217.8,868.3 L222.2,868.3 L226.7,868.3 L231.2,868.3 L235.7,868.3 L240.2,868.3 L244.7,868.3 L249.2,868.3 L253.7,868.3 L258.2,868.3 L262.7,868.3 L267.2,868.3 L271.6,868.3 L276.1,868.3 L280.6,868.3 L285.1,868.2 L289.6,868.2 L294.1,868.2 L298.6,868.2 L303.1,868.1 L307.6,868.1 L312.1,868.1 L316.5,868.1 L321.0,868.1 L325.5,868.2 L330.0,868.2 L334.5,868.2 L339.0,868.2 L343.5,868.0 L348.0,867.8 L352.5,867.6 L357.0,867.4 L361.5,867.2 L365.9,867.0 L370.4,866.8 L374.9,866.3 L379.4,865.9 L383.9,865.4 L388.4,865.0 L392.9,864.5 L397.4,864.1 L401.9,863.6 L406.4,862.9 L410.8,862.3 L415.3,861.6 L419.8,861.0 L424.3,860.3 L428.8,859.7 L433.3,858.9 L437.8,857.5 L442.3,856.1 L446.8,854.6 L451.3,853.1 L455.8,851.6 L460.2,850.2 L464.7,848.7 L469.2,847.1 L473.7,844.8 L478.2,842.5 L482.7,840.1 L487.2,837.8 L491.7,835.6 L496.2,833.8 L500.7,829.6 L505.1,825.2 L509.6,820.9 L514.1,816.5 L518.6,812.4 L523.1,811.3 L527.6,810.5 L532.1,809.5 L536.6,808.2 L541.1,803.4 L545.6,798.2 L550.1,793.1 L554.5,787.9 L559.0,783.0 L563.5,779.8 L568.0,775.7 L572.5,771.4 L577.0,767.2 L581.5,763.0 L586.0,758.8 L590.5,755.9 L595.0,752.2 L599.5,746.9 L603.9,741.6 L608.4,736.2 L612.9,730.8 L617.4,725.5 L621.9,721.9 L626.4,718.1 L630.9,712.8 L635.4,707.4 L639.9,701.9 L644.4,696.5 L648.8,691.2 L653.3,687.6 L657.8,684.2 L662.3,679.5 L666.8,674.6 L671.3,669.8 L675.8,665.0 L680.3,660.3 L684.8,657.0 L689.3,653.6 L693.8,648.8 L698.2,644.0 L702.7,639.1 L707.2,634.3 L711.7,629.6 L716.2,626.3 L720.7,622.6 L725.2,617.6 L729.7,612.4 L734.2,607.2 L738.7,602.0 L743.1,597.0 L747.6,593.5 L752.1,589.9 L756.6,584.9 L761.1,579.7 L765.6,574.6 L770.1,569.4 L774.6,564.5 L779.1,561.0 L783.6,557.8 L788.1,553.3 L792.5,548.7 L797.0,544.1 L801.5,539.5 L806.0,535.0 L810.5,531.9 L815.0,529.0 L819.5,525.0 L824.0,520.9 L828.5,516.8 L833.0,512.7 L837.4,508.8 L841.9,506.0 L846.4,503.6 L850.9,501.1 L855.4,498.7 L859.9,496.2 L864.4,493.8 L868.9,491.3 L873.4,488.9 L877.9,487.0 L882.4,485.1 L886.8,483.2 L891.3,481.3 L895.8,479.4 L900.3,477.5 L904.8,475.6 L909.3,473.8 L913.8,472.0 L918.3,470.2 L922.8,468.5 L927.3,466.7 L931.7,464.9 L936.2,463.1 L940.7,461.2 L945.2,459.3 L949.7,457.4 L954.2,455.5 L958.7,453.6 L963.2,451.7 L967.7,449.8 L972.2,447.8 L976.7,445.7 L981.1,443.7 L985.6,441.6 L990.1,439.6 L994.6,437.5 L999.1,435.5 L1003.6,433.4 L1008.1,431.4 L1012.6,429.3 L1017.1,427.2 L1021.6,425.1 L1026.0,423.1 L1030.5,421.0 L1035.0,419.0 L1039.5,417.0 L1044.0,415.0 L1048.5,413.0 L1053.0,411.0 L1057.5,409.0 L1062.0,407.0 L1066.5,405.0 L1071.0,403.1 L1075.4,401.1 L1079.9,399.2 L1084.4,397.2 L1088.9,395.3 L1093.4,393.3 L1097.9,391.3 L1102.4,389.4 L1106.9,387.4 L1111.4,385.5 L1115.9,383.5 L1120.3,381.6 L1124.8,379.6 L1129.3,377.7 L1133.8,375.7 L1138.3,373.8 L1142.8,371.8 L1147.3,369.9 L1151.8,367.9 L1156.3,366.0 L1160.8,364.3 L1165.3,362.6 L1169.7,360.9 L1174.2,359.1 L1178.7,357.4 L1183.2,355.7 L1187.7,354.0 L1192.2,352.6 L1196.7,351.3 L1201.2,349.9 L1205.7,348.6 L1210.2,347.2 L1214.6,345.9 L1219.1,344.5 L1223.6,343.4 L1228.1,342.4 L1232.6,341.3 L1237.1,340.2 L1241.6,339.1 L1246.1,338.1 L1250.6,337.0 L1255.1,336.1 L1259.6,335.3 L1264.0,334.4 L1268.5,333.6 L1273.0,332.7 L1277.5,331.9 L1282.0,331.0 L1286.5,330.5 L1291.0,330.1 L1295.5,329.6 L1300.0,329.2 L1304.5,328.7 L1308.9,328.3 L1313.4,327.8 L1317.9,327.4 L1322.4,327.0 L1326.9,326.6 L1331.4,326.2 L1335.9,325.8 L1340.4,325.4 L1344.9,325.0 L1349.4,324.7 L1353.9,324.4 L1358.3,324.1 L1362.8,323.7 L1367.3,323.4 L1371.8,323.1 L1376.3,322.8 L1380.8,322.5 L1385.3,322.3 L1389.8,322.0 L1394.3,321.8 L1398.8,321.5 L1403.2,321.3 L1407.7,321.0 L1412.2,320.7 L1416.7,320.4 L1421.2,320.1 L1425.7,319.9 L1430.2,319.6 L1434.7,319.3 L1439.2,319.0 L1443.7,318.8 L1448.2,318.5 L1452.6,318.3 L1457.1,318.1 L1461.6,317.9 L1466.1,317.6 L1470.6,317.4 L1475.1,317.1 L1479.6,316.9 L1484.1,316.6 L1488.6,316.4 L1493.1,316.1 L1497.6,315.9 L1502.0,315.6 L1506.5,315.3 L1511.0,315.1 L1515.5,314.8 L1520.0,314.6 L1524.5,314.3 L1529.0,314.1 L1533.5,313.8 L1538.0,313.6 L1542.5,313.3 L1546.9,313.1 L1551.4,312.9 L1555.9,312.7 L1560.4,312.4 L1564.9,312.2 L1569.4,312.0 L1573.9,311.7 L1578.4,311.5 L1582.9,311.3 L1587.4,311.1 L1591.9,310.8 L1596.3,310.6 L1600.8,310.2 L1605.3,309.9 L1609.8,309.5 L1614.3,309.1 L1618.8,308.7 L1623.3,308.4 L1627.8,308.0 L1632.3,307.6 L1636.8,307.3 L1641.2,306.9 L1645.7,306.5 L1650.2,306.1 L1654.7,305.8 L1659.2,305.4 L1663.7,304.9 L1668.2,304.4 L1672.7,303.9 L1677.2,303.3 L1681.7,302.8 L1686.2,302.3 L1690.6,301.8 L1695.1,301.5 L1699.6,301.2 L1704.1,300.9 L1708.6,300.5 L1713.1,300.2 L1717.6,299.9 L1722.1,299.6 L1726.6,299.2 L1731.1,298.8 L1735.5,298.4 L1740.0,298.0 L1744.5,297.6 L1749.0,297.2 L1753.5,296.8 L1758.0,296.5 L1762.5,296.2 L1767.0,295.9 L1771.5,295.5 L1776.0,295.2 L1780.5,294.9"/>
<path id="d_magenta" stroke-dasharray="14.920 19.843" d="M150.4,867.0 L154.9,867.0 L159.4,867.0 L163.9,867.0 L168.4,867.0 L172.9,867.0 L177.3,867.0 L181.8,867.0 L186.3,867.0 L190.8,867.0 L195.3,867.0 L199.8,867.0 L204.3,867.0 L208.8,867.0 L213.3,867.0 L217.8,867.0 L222.2,867.0 L226.7,867.0 L231.2,867.0 L235.7,867.0 L240.2,867.0 L244.7,867.0 L249.2,867.0 L253.7,867.0 L258.2,867.0 L262.7,867.0 L267.2,867.0 L271.6,867.0 L276.1,867.0 L280.6,867.0 L285.1,866.9 L289.6,866.9 L294.1,866.9 L298.6,866.9 L303.1,866.8 L307.6,866.8 L312.1,866.7 L316.5,866.6 L321.0,866.5 L325.5,866.3 L330.0,866.2 L334.5,866.1 L339.0,866.0 L343.5,865.8 L348.0,865.6 L352.5,865.4 L357.0,865.1 L361.5,864.9 L365.9,864.7 L370.4,864.5 L374.9,864.0 L379.4,863.6 L383.9,863.1 L388.4,862.7 L392.9,862.2 L397.4,861.8 L401.9,861.3 L406.4,860.6 L410.8,859.9 L415.3,859.2 L419.8,858.4 L424.3,857.7 L428.8,857.0 L433.3,856.2 L437.8,854.7 L442.3,853.2 L446.8,851.6 L451.3,850.0 L455.8,848.4 L460.2,846.9 L464.7,845.3 L469.2,843.5 L473.7,841.1 L478.2,838.6 L482.7,836.1 L487.2,833.6 L491.7,831.2 L496.2,829.3 L500.7,825.4 L505.1,821.3 L509.6,817.3 L514.1,813.2 L518.6,809.4 L523.1,808.3 L527.6,807.5 L532.1,806.5 L536.6,805.1 L541.1,799.7 L545.6,793.9 L550.1,788.1 L554.5,782.3 L559.0,776.7 L563.5,773.0 L568.0,768.1 L572.5,763.0 L577.0,758.0 L581.5,753.0 L586.0,748.1 L590.5,744.6 L595.0,740.1 L599.5,733.6 L603.9,727.0 L608.4,720.4 L612.9,713.8 L617.4,707.4 L621.9,703.0 L626.4,699.1 L630.9,693.6 L635.4,688.0 L639.9,682.4 L644.4,676.8 L648.8,671.4 L653.3,667.6 L657.8,663.9 L662.3,658.8 L666.8,653.6 L671.3,648.3 L675.8,643.1 L680.3,638.0 L684.8,634.5 L689.3,630.5 L693.8,624.9 L698.2,619.2 L702.7,613.6 L707.2,607.9 L711.7,602.3 L716.2,598.5 L720.7,594.8 L725.2,589.6 L729.7,584.3 L734.2,579.0 L738.7,573.7 L743.1,568.6 L747.6,564.8 L752.1,558.9 L756.6,552.8 L761.1,546.8 L765.6,540.7 L770.1,534.6 L774.6,528.6 L779.1,524.2 L783.6,521.8 L788.1,517.9 L792.5,513.8 L797.0,509.7 L801.5,505.6 L806.0,501.5 L810.5,497.5 L815.0,494.9 L819.5,491.5 L824.0,488.0 L828.5,484.4 L833.0,480.9 L837.4,477.5 L841.9,475.1 L846.4,473.2 L850.9,471.3 L855.4,469.4 L859.9,467.6 L864.4,465.7 L868.9,463.8 L873.4,461.9 L877.9,460.5 L882.4,459.2 L886.8,457.8 L891.3,456.4 L895.8,455.0 L900.3,453.7 L904.8,452.3 L909.3,450.8 L913.8,449.2 L918.3,447.7 L922.8,446.2 L927.3,444.7 L931.7,443.1 L936.2,441.6 L940.7,440.0 L945.2,438.4 L949.7,436.8 L954.2,435.2 L958.7,433.6 L963.2,432.0 L967.7,430.4 L972.2,428.9 L976.7,427.4 L981.1,425.9 L985.6,424.5 L990.1,423.0 L994.6,421.5 L999.1,420.0 L1003.6,418.1 L1008.1,416.1 L1012.6,414.2 L1017.1,412.3 L1021.6,410.4 L1026.0,408.4 L1030.5,406.5 L1035.0,404.6 L1039.5,402.6 L1044.0,400.7 L1048.5,398.8 L1053.0,396.9 L1057.5,394.9 L1062.0,393.0 L1066.5,391.1 L1071.0,389.3 L1075.4,387.4 L1079.9,385.6 L1084.4,383.7 L1088.9,381.9 L1093.4,380.0 L1097.9,378.0 L1102.4,376.0 L1106.9,374.0 L1111.4,372.0 L1115.9,370.0 L1120.3,368.0 L1124.8,366.0 L1129.3,363.7 L1133.8,361.4 L1138.3,359.1 L1142.8,356.9 L1147.3,354.6 L1151.8,352.3 L1156.3,350.0 L1160.8,348.1 L1165.3,346.1 L1169.7,344.2 L1174.2,342.3 L1178.7,340.4 L1183.2,338.4 L1187.7,336.5 L1192.2,335.0 L1196.7,333.6 L1201.2,332.1 L1205.7,330.6 L1210.2,329.1 L1214.6,327.7 L1219.1,326.2 L1223.6,325.0 L1228.1,323.9 L1232.6,322.7 L1237.1,321.5 L1241.6,320.3 L1246.1,319.2 L1250.6,318.0 L1255.1,317.2 L1259.6,316.4 L1264.0,315.6 L1268.5,314.9 L1273.0,314.1 L1277.5,313.3 L1282.0,312.5 L1286.5,312.0 L1291.0,311.4 L1295.5,310.9 L1300.0,310.4 L1304.5,309.9 L1308.9,309.3 L1313.4,308.8 L1317.9,308.4 L1322.4,308.1 L1326.9,307.7 L1331.4,307.3 L1335.9,306.9 L1340.4,306.6 L1344.9,306.2 L1349.4,305.9 L1353.9,305.5 L1358.3,305.2 L1362.8,304.9 L1367.3,304.6 L1371.8,304.2 L1376.3,303.9 L1380.8,303.6 L1385.3,303.3 L1389.8,303.0 L1394.3,302.8 L1398.8,302.5 L1403.2,302.2 L1407.7,301.9 L1412.2,301.6 L1416.7,301.3 L1421.2,301.0 L1425.7,300.8 L1430.2,300.5 L1434.7,300.2 L1439.2,299.9 L1443.7,299.7 L1448.2,299.4 L1452.6,299.2 L1457.1,299.0 L1461.6,298.8 L1466.1,298.5 L1470.6,298.3 L1475.1,298.1 L1479.6,297.9 L1484.1,297.7 L1488.6,297.5 L1493.1,297.3 L1497.6,297.1 L1502.0,296.9 L1506.5,296.7 L1511.0,296.4 L1515.5,296.2 L1520.0,296.0 L1524.5,295.8 L1529.0,295.5 L1533.5,295.3 L1538.0,295.1 L1542.5,294.9 L1546.9,294.7 L1551.4,294.6 L1555.9,294.4 L1560.4,294.2 L1564.9,294.0 L1569.4,293.8 L1573.9,293.6 L1578.4,293.4 L1582.9,293.1 L1587.4,292.9 L1591.9,292.7 L1596.3,292.5 L1600.8,292.2 L1605.3,291.9 L1609.8,291.6 L1614.3,291.2 L1618.8,290.9 L1623.3,290.6 L1627.8,290.3 L1632.3,290.0 L1636.8,289.6 L1641.2,289.3 L1645.7,288.9 L1650.2,288.6 L1654.7,288.2 L1659.2,287.9 L1663.7,287.4 L1668.2,286.9 L1672.7,286.4 L1677.2,285.8 L1681.7,285.3 L1686.2,284.8 L1690.6,284.3 L1695.1,283.9 L1699.6,283.5 L1704.1,283.1 L1708.6,282.7 L1713.1,282.3 L1717.6,281.9 L1722.1,281.5 L1726.6,281.2 L1731.1,280.9 L1735.5,280.6 L1740.0,280.4 L1744.5,280.1 L1749.0,279.8 L1753.5,279.5 L1758.0,279.3 L1762.5,279.0 L1767.0,278.8 L1771.5,278.6 L1776.0,278.3 L1780.5,278.1"/>
</g>
<use href="#s_red" stroke="#a50021" stroke-opacity="1"/>
<use href="#s_green" stroke="#00ff00" stroke-opacity="1"/>
<use href="#s_navy" stroke="#333399" stroke-opacity="1"/>
<use href="#s_blue" stroke="#3333ff" stroke-opacity="1"/>
<use href="#s_cyan" stroke="#00ffff" stroke-opacity="1"/>
<use href="#s_yellow" stroke="#ffff00" stroke-opacity="1"/>
<use href="#s_magenta" stroke="#ff00ff" stroke-opacity="1"/>
<use href="#d_red" stroke="#a50021" stroke-opacity="1" stroke-dasharray="14.949 19.882"/>
<use href="#d_green" stroke="#00ff00" stroke-opacity="1" stroke-dasharray="14.977 19.919"/>
<use href="#d_navy" stroke="#333399" stroke-opacity="1" stroke-dasharray="14.974 19.915"/>
<use href="#d_blue" stroke="#3333ff" stroke-opacity="1" stroke-dasharray="14.945 19.877"/>
<use href="#d_cyan" stroke="#00ffff" stroke-opacity="1" stroke-dasharray="14.978 19.921"/>
<use href="#d_yellow" stroke="#ffff00" stroke-opacity="1" stroke-dasharray="14.960 19.896"/>
<use href="#d_magenta" stroke="#ff00ff" stroke-opacity="1" stroke-dasharray="14.920 19.843"/>
</g>
<path d="M124.0 116.3H174.9" stroke="#a50021" stroke-width="5.3" stroke-linecap="round" fill="none"/>
<path d="M382.4 116.3H432.2" stroke="#00ff00" stroke-width="5.3" stroke-linecap="round" fill="none"/>
<path d="M552.1 116.3H601.6" stroke="#333399" stroke-width="5.3" stroke-linecap="round" fill="none"/>
<path d="M740.9 116.3H789.1" stroke="#3333ff" stroke-width="5.3" stroke-linecap="round" fill="none"/>
<path d="M1100.1 116.3H1149.1" stroke="#00ffff" stroke-width="5.3" stroke-linecap="round" fill="none"/>
<path d="M1314.6 116.3H1363.1" stroke="#ffff00" stroke-width="5.3" stroke-linecap="round" fill="none"/>
<path d="M1516.1 116.3H1565.0" stroke="#ff00ff" stroke-width="5.3" stroke-linecap="round" fill="none"/>
<rect x="190.5" y="172.5" width="206" height="79.7" fill="#fff" stroke="#2f5597" stroke-width="1.6" filter="url(#bsh)"/>
<g opacity="0.999">
<text x="19.22" y="33.90" font-size="25.5" font-weight="bold" fill="#7f7f7f" textLength="140.18" lengthAdjust="spacingAndGlyphs">09-Jan Data</text>
<text x="369.79" y="61.10" font-size="38" fill="#595959" textLength="1071.67" lengthAdjust="spacingAndGlyphs">England NHS Regions - Vaccinations Per 1M (All Age) Population</text>
<text x="1668.86" y="42.60" font-size="29.3" font-weight="bold" fill="#7f7f7f" textLength="122.44" lengthAdjust="spacingAndGlyphs">@RP131</text>
<text x="181.23" y="123.80" font-size="24" fill="#595959" textLength="169.58" lengthAdjust="spacingAndGlyphs">East Of England</text>
<text x="437.77" y="123.80" font-size="24" fill="#595959" textLength="82.42" lengthAdjust="spacingAndGlyphs">London</text>
<text x="608.06" y="123.80" font-size="24" fill="#595959" textLength="99.84" lengthAdjust="spacingAndGlyphs">Midlands</text>
<text x="795.79" y="123.80" font-size="24" fill="#595959" textLength="272.27" lengthAdjust="spacingAndGlyphs">North East And Yorkshire</text>
<text x="1155.75" y="123.80" font-size="24" fill="#595959" textLength="125.60" lengthAdjust="spacingAndGlyphs">North West</text>
<text x="1369.33" y="123.80" font-size="24" fill="#595959" textLength="114.45" lengthAdjust="spacingAndGlyphs">South East</text>
<text x="1571.28" y="123.80" font-size="24" fill="#595959" textLength="125.58" lengthAdjust="spacingAndGlyphs">South West</text>
<text x="114.60" y="880.70" font-size="20.4" fill="#595959" textLength="11.34" lengthAdjust="spacingAndGlyphs">0</text>
<text x="76.79" y="801.83" font-size="20.4" fill="#595959" textLength="48.11" lengthAdjust="spacingAndGlyphs">100K</text>
<text x="76.79" y="722.96" font-size="20.4" fill="#595959" textLength="48.11" lengthAdjust="spacingAndGlyphs">200K</text>
<text x="77.80" y="644.09" font-size="20.4" fill="#595959" textLength="47.10" lengthAdjust="spacingAndGlyphs">300K</text>
<text x="77.80" y="565.22" font-size="20.4" fill="#595959" textLength="47.10" lengthAdjust="spacingAndGlyphs">400K</text>
<text x="77.80" y="486.35" font-size="20.4" fill="#595959" textLength="47.10" lengthAdjust="spacingAndGlyphs">500K</text>
<text x="76.79" y="407.48" font-size="20.4" fill="#595959" textLength="48.11" lengthAdjust="spacingAndGlyphs">600K</text>
<text x="76.79" y="328.61" font-size="20.4" fill="#595959" textLength="48.11" lengthAdjust="spacingAndGlyphs">700K</text>
<text x="77.80" y="249.74" font-size="20.4" fill="#595959" textLength="47.10" lengthAdjust="spacingAndGlyphs">800K</text>
<text x="77.80" y="170.87" font-size="20.4" fill="#595959" textLength="47.10" lengthAdjust="spacingAndGlyphs">900K</text>
<text x="20.07" y="990.00" font-size="20.3" font-weight="bold" fill="#a6a6a6" textLength="1267.69" lengthAdjust="spacingAndGlyphs">Figures normalised per 1M region all-age pop. Note London has a younger population which may account for its lower number.</text>
<text x="1369.03" y="989.70" font-size="24.2" font-weight="bold" fill="#a6a6a6" textLength="422.88" lengthAdjust="spacingAndGlyphs">Data Source: www.england.nhs.uk</text>
<text x="216.10" y="206.20" font-size="21.7" fill="#000000" textLength="153.16" lengthAdjust="spacingAndGlyphs">Solid = 1st Dose</text>
<text x="212.03" y="235.20" font-size="21.7" fill="#000000" textLength="162.43" lengthAdjust="spacingAndGlyphs">Dash = 2nd Dose</text>
<text transform="translate(49.30 749.60) rotate(-90)" x="0" y="0" font-size="22.3" font-weight="bold" fill="#595959" textLength="473.99" lengthAdjust="spacingAndGlyphs">VACCINATIONS PER 1M (ALL AGE) POPULATION</text>
<text transform="translate(158.00 942.64) rotate(-90)" x="0" y="0" font-size="18.9" fill="#595959" textLength="54.42" lengthAdjust="spacingAndGlyphs">10-Jan</text>
<text transform="translate(189.43 942.64) rotate(-90)" x="0" y="0" font-size="18.9" fill="#595959" textLength="54.42" lengthAdjust="spacingAndGlyphs">17-Jan</text>
<text transform="translate(220.87 941.70) rotate(-90)" x="0" y="0" font-size="18.9" fill="#595959" textLength="53.47" lengthAdjust="spacingAndGlyphs">24-Jan</text>
<text transform="translate(252.30 941.70) rotate(-90)" x="0" y="0" font-size="18.9" fill="#595959" textLength="53.47" lengthAdjust="spacingAndGlyphs">31-Jan</text>
<text transform="translate(283.73 946.30) rotate(-90)" x="0" y="0" font-size="18.9" fill="#595959" textLength="58.09" lengthAdjust="spacingAndGlyphs">07-Feb</text>
<text transform="translate(315.17 947.29) rotate(-90)" x="0" y="0" font-size="18.9" fill="#595959" textLength="59.09" lengthAdjust="spacingAndGlyphs">14-Feb</text>
<text transform="translate(346.60 946.30) rotate(-90)" x="0" y="0" font-size="18.9" fill="#595959" textLength="58.09" lengthAdjust="spacingAndGlyphs">21-Feb</text>
<text transform="translate(378.03 946.30) rotate(-90)" x="0" y="0" font-size="18.9" fill="#595959" textLength="58.09" lengthAdjust="spacingAndGlyphs">28-Feb</text>
<text transform="translate(409.47 950.20) rotate(-90)" x="0" y="0" font-size="18.9" fill="#595959" textLength="61.80" lengthAdjust="spacingAndGlyphs">07-Mar</text>
<text transform="translate(440.90 951.25) rotate(-90)" x="0" y="0" font-size="18.9" fill="#595959" textLength="62.86" lengthAdjust="spacingAndGlyphs">14-Mar</text>
<text transform="translate(472.34 950.20) rotate(-90)" x="0" y="0" font-size="18.9" fill="#595959" textLength="61.80" lengthAdjust="spacingAndGlyphs">21-Mar</text>
<text transform="translate(503.77 950.20) rotate(-90)" x="0" y="0" font-size="18.9" fill="#595959" textLength="61.80" lengthAdjust="spacingAndGlyphs">28-Mar</text>
<text transform="translate(535.20 944.00) rotate(-90)" x="0" y="0" font-size="18.9" fill="#595959" textLength="55.59" lengthAdjust="spacingAndGlyphs">04-Apr</text>
<text transform="translate(566.64 945.02) rotate(-90)" x="0" y="0" font-size="18.9" fill="#595959" textLength="56.62" lengthAdjust="spacingAndGlyphs">11-Apr</text>
<text transform="translate(598.07 945.00) rotate(-90)" x="0" y="0" font-size="18.9" fill="#595959" textLength="56.59" lengthAdjust="spacingAndGlyphs">18-Apr</text>
<text transform="translate(629.50 944.00) rotate(-90)" x="0" y="0" font-size="18.9" fill="#595959" textLength="55.59" lengthAdjust="spacingAndGlyphs">25-Apr</text>
<text transform="translate(660.94 953.20) rotate(-90)" x="0" y="0" font-size="18.9" fill="#595959" textLength="63.94" lengthAdjust="spacingAndGlyphs">02-May</text>
<text transform="translate(692.37 953.20) rotate(-90)" x="0" y="0" font-size="18.9" fill="#595959" textLength="63.94" lengthAdjust="spacingAndGlyphs">09-May</text>
<text transform="translate(723.80 954.23) rotate(-90)" x="0" y="0" font-size="18.9" fill="#595959" textLength="64.96" lengthAdjust="spacingAndGlyphs">16-May</text>
<text transform="translate(755.24 953.20) rotate(-90)" x="0" y="0" font-size="18.9" fill="#595959" textLength="63.94" lengthAdjust="spacingAndGlyphs">23-May</text>
<text transform="translate(786.67 953.20) rotate(-90)" x="0" y="0" font-size="18.9" fill="#595959" textLength="63.94" lengthAdjust="spacingAndGlyphs">30-May</text>
<text transform="translate(818.10 941.70) rotate(-90)" x="0" y="0" font-size="18.9" fill="#595959" textLength="53.47" lengthAdjust="spacingAndGlyphs">06-Jun</text>
<text transform="translate(849.54 942.64) rotate(-90)" x="0" y="0" font-size="18.9" fill="#595959" textLength="54.42" lengthAdjust="spacingAndGlyphs">13-Jun</text>
<text transform="translate(880.97 941.70) rotate(-90)" x="0" y="0" font-size="18.9" fill="#595959" textLength="53.47" lengthAdjust="spacingAndGlyphs">20-Jun</text>
<text transform="translate(912.40 941.70) rotate(-90)" x="0" y="0" font-size="18.9" fill="#595959" textLength="53.47" lengthAdjust="spacingAndGlyphs">27-Jun</text>
<text transform="translate(943.84 936.70) rotate(-90)" x="0" y="0" font-size="18.9" fill="#595959" textLength="49.14" lengthAdjust="spacingAndGlyphs">04-Jul</text>
<text transform="translate(975.27 937.70) rotate(-90)" x="0" y="0" font-size="18.9" fill="#595959" textLength="50.20" lengthAdjust="spacingAndGlyphs">11-Jul</text>
<text transform="translate(1006.70 937.67) rotate(-90)" x="0" y="0" font-size="18.9" fill="#595959" textLength="50.14" lengthAdjust="spacingAndGlyphs">18-Jul</text>
<text transform="translate(1038.14 936.70) rotate(-90)" x="0" y="0" font-size="18.9" fill="#595959" textLength="49.14" lengthAdjust="spacingAndGlyphs">25-Jul</text>
<text transform="translate(1069.57 948.30) rotate(-90)" x="0" y="0" font-size="18.9" fill="#595959" textLength="60.10" lengthAdjust="spacingAndGlyphs">01-Aug</text>
<text transform="translate(1101.00 948.30) rotate(-90)" x="0" y="0" font-size="18.9" fill="#595959" textLength="60.10" lengthAdjust="spacingAndGlyphs">08-Aug</text>
<text transform="translate(1132.44 949.30) rotate(-90)" x="0" y="0" font-size="18.9" fill="#595959" textLength="61.11" lengthAdjust="spacingAndGlyphs">15-Aug</text>
<text transform="translate(1163.87 948.30) rotate(-90)" x="0" y="0" font-size="18.9" fill="#595959" textLength="60.10" lengthAdjust="spacingAndGlyphs">22-Aug</text>
<text transform="translate(1195.31 948.30) rotate(-90)" x="0" y="0" font-size="18.9" fill="#595959" textLength="60.10" lengthAdjust="spacingAndGlyphs">29-Aug</text>
<text transform="translate(1226.74 946.60) rotate(-90)" x="0" y="0" font-size="18.9" fill="#595959" textLength="58.39" lengthAdjust="spacingAndGlyphs">05-Sep</text>
<text transform="translate(1258.17 947.57) rotate(-90)" x="0" y="0" font-size="18.9" fill="#595959" textLength="59.37" lengthAdjust="spacingAndGlyphs">12-Sep</text>
<text transform="translate(1289.61 947.57) rotate(-90)" x="0" y="0" font-size="18.9" fill="#595959" textLength="59.37" lengthAdjust="spacingAndGlyphs">19-Sep</text>
<text transform="translate(1321.04 946.60) rotate(-90)" x="0" y="0" font-size="18.9" fill="#595959" textLength="58.39" lengthAdjust="spacingAndGlyphs">26-Sep</text>
<text transform="translate(1352.47 943.30) rotate(-90)" x="0" y="0" font-size="18.9" fill="#595959" textLength="53.89" lengthAdjust="spacingAndGlyphs">03-Oct</text>
<text transform="translate(1383.91 944.27) rotate(-90)" x="0" y="0" font-size="18.9" fill="#595959" textLength="54.84" lengthAdjust="spacingAndGlyphs">10-Oct</text>
<text transform="translate(1415.34 944.27) rotate(-90)" x="0" y="0" font-size="18.9" fill="#595959" textLength="54.84" lengthAdjust="spacingAndGlyphs">17-Oct</text>
<text transform="translate(1446.77 943.30) rotate(-90)" x="0" y="0" font-size="18.9" fill="#595959" textLength="53.89" lengthAdjust="spacingAndGlyphs">24-Oct</text>
<text transform="translate(1478.21 943.30) rotate(-90)" x="0" y="0" font-size="18.9" fill="#595959" textLength="53.89" lengthAdjust="spacingAndGlyphs">31-Oct</text>
<text transform="translate(1509.64 949.30) rotate(-90)" x="0" y="0" font-size="18.9" fill="#595959" textLength="60.05" lengthAdjust="spacingAndGlyphs">07-Nov</text>
<text transform="translate(1541.07 950.30) rotate(-90)" x="0" y="0" font-size="18.9" fill="#595959" textLength="61.05" lengthAdjust="spacingAndGlyphs">14-Nov</text>
<text transform="translate(1572.51 949.30) rotate(-90)" x="0" y="0" font-size="18.9" fill="#595959" textLength="60.05" lengthAdjust="spacingAndGlyphs">21-Nov</text>
<text transform="translate(1603.94 949.30) rotate(-90)" x="0" y="0" font-size="18.9" fill="#595959" textLength="60.05" lengthAdjust="spacingAndGlyphs">28-Nov</text>
<text transform="translate(1635.37 946.60) rotate(-90)" x="0" y="0" font-size="18.9" fill="#595959" textLength="58.33" lengthAdjust="spacingAndGlyphs">05-Dec</text>
<text transform="translate(1666.81 947.57) rotate(-90)" x="0" y="0" font-size="18.9" fill="#595959" textLength="59.31" lengthAdjust="spacingAndGlyphs">12-Dec</text>
<text transform="translate(1698.24 947.57) rotate(-90)" x="0" y="0" font-size="18.9" fill="#595959" textLength="59.31" lengthAdjust="spacingAndGlyphs">19-Dec</text>
<text transform="translate(1729.67 946.60) rotate(-90)" x="0" y="0" font-size="18.9" fill="#595959" textLength="58.33" lengthAdjust="spacingAndGlyphs">26-Dec</text>
<text transform="translate(1761.11 941.70) rotate(-90)" x="0" y="0" font-size="18.9" fill="#595959" textLength="53.47" lengthAdjust="spacingAndGlyphs">02-Jan</text>
</g>
</svg></body></html>
